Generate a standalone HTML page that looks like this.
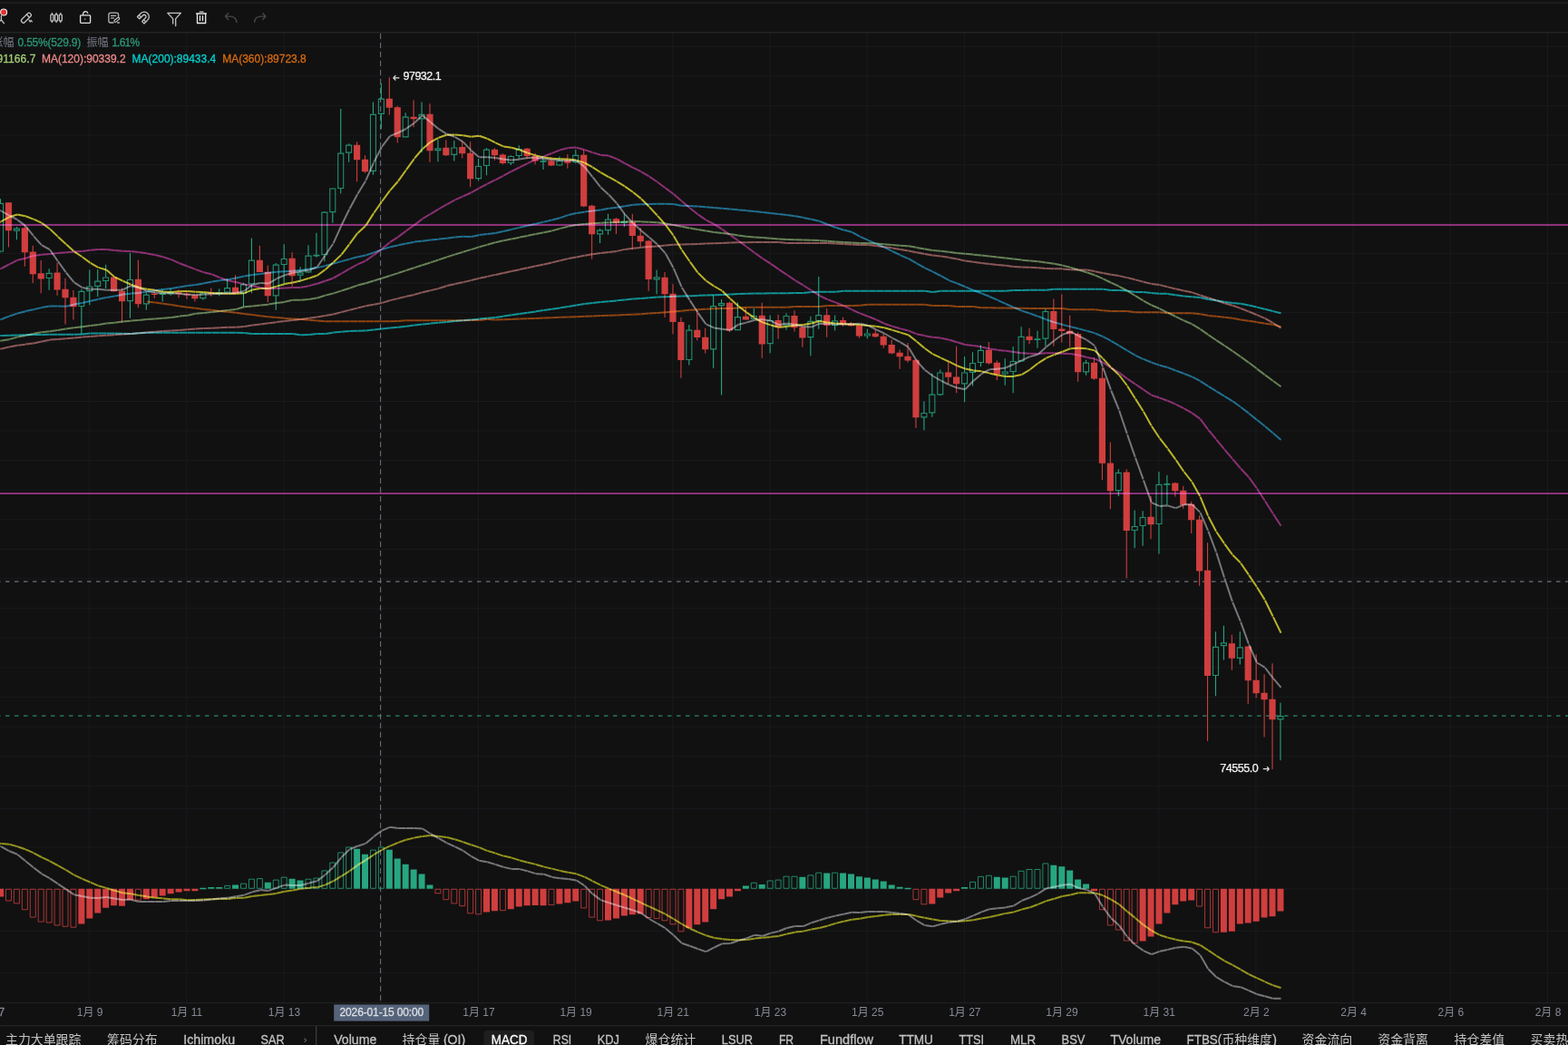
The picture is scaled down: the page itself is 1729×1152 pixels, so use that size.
<!DOCTYPE html>
<html lang="zh"><head><meta charset="utf-8"><title>chart</title>
<style>
html,body{margin:0;padding:0;background:#111111;overflow:hidden;}
body{width:1729px;height:1152px;font-family:"Liberation Sans", "Noto Sans CJK SC", sans-serif;}
svg{display:block;position:absolute;left:0;top:0;}
text{font-family:"Liberation Sans", "Noto Sans CJK SC", sans-serif;}
</style></head><body>
<svg width="1729" height="1152" viewBox="0 0 1729 1152" font-family='"Liberation Sans", "Noto Sans CJK SC", sans-serif'><g stroke="#1a1b1f" stroke-width="1"><line x1="98.67" y1="36" x2="98.67" y2="1105"/><line x1="205.86" y1="36" x2="205.86" y2="1105"/><line x1="313.05" y1="36" x2="313.05" y2="1105"/><line x1="420.24" y1="36" x2="420.24" y2="1105"/><line x1="527.43" y1="36" x2="527.43" y2="1105"/><line x1="634.62" y1="36" x2="634.62" y2="1105"/><line x1="741.81" y1="36" x2="741.81" y2="1105"/><line x1="849" y1="36" x2="849" y2="1105"/><line x1="956.19" y1="36" x2="956.19" y2="1105"/><line x1="1063.38" y1="36" x2="1063.38" y2="1105"/><line x1="1170.57" y1="36" x2="1170.57" y2="1105"/><line x1="1277.76" y1="36" x2="1277.76" y2="1105"/><line x1="1384.95" y1="36" x2="1384.95" y2="1105"/><line x1="1492.14" y1="36" x2="1492.14" y2="1105"/><line x1="1599.33" y1="36" x2="1599.33" y2="1105"/><line x1="1706.52" y1="36" x2="1706.52" y2="1105"/><line x1="0" y1="51.2" x2="1729" y2="51.2"/><line x1="0" y1="83.8" x2="1729" y2="83.8"/><line x1="0" y1="116.41" x2="1729" y2="116.41"/><line x1="0" y1="149.01" x2="1729" y2="149.01"/><line x1="0" y1="181.62" x2="1729" y2="181.62"/><line x1="0" y1="214.22" x2="1729" y2="214.22"/><line x1="0" y1="246.82" x2="1729" y2="246.82"/><line x1="0" y1="279.43" x2="1729" y2="279.43"/><line x1="0" y1="312.03" x2="1729" y2="312.03"/><line x1="0" y1="344.64" x2="1729" y2="344.64"/><line x1="0" y1="377.24" x2="1729" y2="377.24"/><line x1="0" y1="409.84" x2="1729" y2="409.84"/><line x1="0" y1="442.45" x2="1729" y2="442.45"/><line x1="0" y1="475.05" x2="1729" y2="475.05"/><line x1="0" y1="507.66" x2="1729" y2="507.66"/><line x1="0" y1="540.26" x2="1729" y2="540.26"/><line x1="0" y1="572.86" x2="1729" y2="572.86"/><line x1="0" y1="605.47" x2="1729" y2="605.47"/><line x1="0" y1="638.07" x2="1729" y2="638.07"/><line x1="0" y1="670.68" x2="1729" y2="670.68"/><line x1="0" y1="703.28" x2="1729" y2="703.28"/><line x1="0" y1="735.88" x2="1729" y2="735.88"/><line x1="0" y1="768.49" x2="1729" y2="768.49"/><line x1="0" y1="801.09" x2="1729" y2="801.09"/><line x1="0" y1="833.7" x2="1729" y2="833.7"/><line x1="0" y1="866.3" x2="1729" y2="866.3"/><line x1="0" y1="891.6" x2="1729" y2="891.6"/><line x1="0" y1="933.8" x2="1729" y2="933.8"/><line x1="0" y1="980" x2="1729" y2="980"/><line x1="0" y1="1026.2" x2="1729" y2="1026.2"/><line x1="0" y1="1072.3" x2="1729" y2="1072.3"/></g><line x1="0" y1="641.2" x2="1729" y2="641.2" stroke="#6e7380" stroke-width="1.2" stroke-dasharray="4.5 5.5" stroke-dashoffset="-6"/><line x1="0" y1="789.2" x2="1729" y2="789.2" stroke="#2a8a6c" stroke-width="1.2" stroke-dasharray="4.5 5.5" stroke-dashoffset="-6"/><line x1="419.6" y1="37" x2="419.6" y2="1105" stroke="#8c8fa0" stroke-width="1" stroke-dasharray="6 4" opacity="0.75"/><path d="M9.47 223.33V272.5M27.34 248.33V293.67M36.27 270.83V312M45.2 287V323.33M63.07 289.67V325.83M72 306.67V357.5M80.93 320V352.5M125.6 305.5V321.17M134.53 317.5V355.83M152.4 286.67V339.17M170.26 320.33V328.67M197.06 319.17V328.33M206 321.33V329.67M214.93 325V332.5M232.8 317.5V326.67M259.59 303.33V324.17M286.39 270.83V300M295.33 292.5V333.33M322.12 278.33V315.83M393.59 156.33V200.33M402.52 171.33V190.83M429.32 85.33V126.67M438.25 116.67V157.5M456.12 110.5V140.33M473.99 114.17V178.67M491.85 154.17V172M509.72 155.33V174.17M518.65 156.17V206.33M545.45 163.33V176.67M554.38 169.17V181.33M581.18 163.33V175.33M590.12 168.67V181.33M607.98 173.33V183M625.85 170V185.83M643.71 165V228.33M652.65 225.83V285.83M679.44 240V258M697.31 235.83V275.33M706.24 251.33V272.5M715.18 264.67V320.83M733.04 300V350M741.98 313.33V368.33M750.91 349.67V416.67M768.77 341.67V375.33M777.71 361.67V389.5M804.51 332.5V366.33M822.37 338.67V352.5M840.24 333.67V394.67M858.1 346.67V373.83M875.97 342.17V365.5M884.9 359.17V382.83M911.7 340V371.67M929.57 349.67V359.67M938.5 355V359.67M947.43 358.83V372.83M965.3 363V372M974.23 367.5V383.83M983.17 374.5V390.5M992.1 385.5V406.67M1001.03 378V399.5M1009.97 396.33V471.67M1045.7 397.5V423.33M1054.63 381.67V433.33M1090.36 377V401.67M1099.3 397.5V419.17M1135.03 361.67V379.17M1161.83 329.5V381.67M1170.76 324.5V377.5M1179.69 347.83V382.5M1188.63 366.33V420.83M1206.49 394.17V418.67M1215.42 405.33V529.17M1224.36 487.5V561.33M1242.22 517.17V637.5M1269.02 546.67V594.17M1295.82 531.67V547.5M1304.75 535.83V560.83M1313.69 552.83V588M1322.62 568.33V645.83M1331.55 598.33V817M1358.35 699.67V738.83M1376.22 712.5V776.33M1385.15 721.33V769.5M1394.09 743.33V812.5M1403.02 731.33V848" stroke="#d03e3e" stroke-width="1.1" fill="none"/><path d="M5.87 223.33H13.07V254.17H5.87ZM23.74 251.33H30.94V278.33H23.74ZM32.67 277.5H39.87V302.17H32.67ZM41.6 301.33H48.8V307.5H41.6ZM59.47 300.5H66.67V319.5H59.47ZM68.4 318.67H75.6V328.33H68.4ZM77.33 327.83H84.53V338.33H77.33ZM122 305.5H129.2V321.17H122ZM130.93 320.83H138.13V332.17H130.93ZM148.8 307.67H156V335.33H148.8ZM166.66 323.67H173.86V325H166.66ZM193.46 322.5H200.66V324.17H193.46ZM202.4 323.67H209.6V325.33H202.4ZM211.33 325.33H218.53V329.17H211.33ZM229.2 322.5H236.4V323.67H229.2ZM255.99 316.67H263.19V323.33H255.99ZM282.79 286.67H289.99V300H282.79ZM291.73 299.67H298.93V326.33H291.73ZM318.52 284.67H325.73V304.17H318.52ZM389.99 159.67H397.19V176.17H389.99ZM398.92 175.83H406.12V189.17H398.92ZM425.72 108.67H432.92V118.83H425.72ZM434.65 118.33H441.85V151.33H434.65ZM452.52 128.67H459.72V131.33H452.52ZM470.39 125.83H477.59V166.17H470.39ZM488.25 162.83H495.45V171.33H488.25ZM506.12 162H513.32V169.17H506.12ZM515.05 168.67H522.25V197.17H515.05ZM541.85 164.67H549.05V171.33H541.85ZM550.78 170.5H557.98V180H550.78ZM577.58 163.67H584.78V172H577.58ZM586.51 171.67H593.72V177.5H586.51ZM604.38 177.17H611.58V182.5H604.38ZM622.25 177H629.45V179.67H622.25ZM640.11 170.83H647.31V227.5H640.11ZM649.05 226.67H656.25V258.33H649.05ZM675.84 241.33H683.04V245.83H675.84ZM693.71 244.67H700.91V260H693.71ZM702.64 259.67H709.84V266.17H702.64ZM711.58 265.5H718.78V308H711.58ZM729.44 305.83H736.64V324.17H729.44ZM738.38 323.83H745.58V355H738.38ZM747.31 355H754.51V397H747.31ZM765.17 363.67H772.38V372H765.17ZM774.11 371.67H781.31V385.33H774.11ZM800.91 333.67H808.11V364.17H800.91ZM818.77 348.67H825.97V352.5H818.77ZM836.64 347.83H843.84V379.5H836.64ZM854.5 353H861.7V360.83H854.5ZM872.37 348H879.57V361.33H872.37ZM881.3 360.83H888.5V372.5H881.3ZM908.1 347.17H915.3V358.83H908.1ZM925.97 353H933.17V357.5H925.97ZM934.9 356.67H942.1V359.17H934.9ZM943.83 358.83H951.03V370.5H943.83ZM961.7 367.5H968.9V371.33H961.7ZM970.63 370.83H977.83V380.5H970.63ZM979.57 380H986.77V389.5H979.57ZM988.5 388.83H995.7V393.33H988.5ZM997.43 392.83H1004.63V397.5H997.43ZM1006.37 396.67H1013.57V460.33H1006.37ZM1042.1 410.5H1049.3V415.83H1042.1ZM1051.03 415.5H1058.23V423.33H1051.03ZM1086.76 385.83H1093.96V400.5H1086.76ZM1095.7 399.67H1102.9V412.83H1095.7ZM1131.43 370.83H1138.63V375H1131.43ZM1158.23 343H1165.43V363H1158.23ZM1167.16 362.5H1174.36V365H1167.16ZM1176.09 364.67H1183.29V368.33H1176.09ZM1185.03 368H1192.23V410.33H1185.03ZM1202.89 399.67H1210.09V417.5H1202.89ZM1211.83 416.67H1219.02V510.83H1211.83ZM1220.76 510.5H1227.96V541.33H1220.76ZM1238.62 520.5H1245.82V585H1238.62ZM1265.42 569.67H1272.62V578.33H1265.42ZM1292.22 532.5H1299.42V541.33H1292.22ZM1301.15 540.83H1308.35V556.67H1301.15ZM1310.09 555.83H1317.29V573.33H1310.09ZM1319.02 572.83H1326.22V629.5H1319.02ZM1327.95 628.67H1335.15V745H1327.95ZM1354.75 709.17H1361.95V725.83H1354.75ZM1372.62 712.5H1379.82V750.33H1372.62ZM1381.55 749.67H1388.75V764.17H1381.55ZM1390.49 763.67H1397.68V771.33H1390.49ZM1399.42 770.83H1406.62V793.33H1399.42Z" fill="#d03e3e"/><path d="M0.54 219.17V223.83M0.54 277.5V278.33M18.4 250V251.67M18.4 254.67V264.17M54.13 296.33V300.83M54.13 307V319.67M89.87 318.67V320.83M89.87 338V368.67M98.8 297.5V315.5M98.8 321.17V336.33M107.73 297V309.67M107.73 315.83V327M116.67 291.67V305.5M116.67 310V318M143.47 278.67V308M143.47 332.17V350.83M161.33 322.5V324.67M161.33 335.33V341.67M179.2 318.67V323.33M179.2 325V332.5M188.13 318V322.5M188.13 323.67V325.83M223.86 322.5V323M223.86 329.17V330.83M241.73 318.33V322.5M241.73 323.67V326.33M250.66 307.17V317.17M250.66 322.5V323.33M268.53 311.67V313.33M268.53 323.67V338.33M277.46 262.5V286.67M277.46 313.33V323.33M304.26 290V291.67M304.26 326.33V341.67M313.19 269.17V285M313.19 292V313.33M331.06 294.17V300.33M331.06 303.67V310.83M339.99 270.33V281.67M339.99 300.33V300.83M348.92 256.67V280.75M348.92 281.75V283.67M357.86 233V233.67M357.86 281.17V288.33M366.79 207V207.5M366.79 234.17V245.83M375.72 120V168.67M375.72 208V213.33M384.66 158.33V159.67M384.66 168.67V178.67M411.45 112.5V125.83M411.45 188.83V192.83M420.39 91.67V108.67M420.39 125.83V142M447.19 124.17V128.67M465.05 112.5V125.83M465.05 131.33V168M482.92 153.67V163.33M482.92 166.17V178.33M500.79 155V162.5M500.79 170.83V177.5M527.58 175V183M527.58 197.17V199.17M536.52 163V164.67M536.52 183V193.33M563.32 171.33V172M563.32 180V182M572.25 160.33V164.17M572.25 172V175.33M599.05 172V177.08M599.05 178.08V187M616.91 172.5V177M616.91 182.5V182.83M634.78 165V170.83M634.78 179.17V180.33M661.58 252V253.67M661.58 258.33V268M670.51 235.83V241.67M670.51 254.17V258.67M688.38 235V244.17M688.38 245.83V250M724.11 297.5V305.33M724.11 308.33V324.17M759.84 358V363.67M759.84 397V402.5M786.64 325V337.17M786.64 385.33V405.83M795.57 330V334.17M795.57 337.17V435.5M813.44 333.33V349.17M831.31 340V348M849.17 347.5V353M849.17 379.17V389.17M867.04 345.33V348M867.04 358.67V363.83M893.84 348.83V353.83M893.84 372.17V392.17M902.77 305V347.17M902.77 353.83V362.83M920.64 347.5V353.33M920.64 358.83V364.5M956.37 362.83V367.5M956.37 370.5V373.33M1018.9 442.5V455M1018.9 460.33V474.17M1027.83 411.67V434.67M1027.83 455.33V459.67M1036.77 407.5V410.5M1036.77 435.33V436.17M1063.56 393V410.5M1063.56 423.33V443.33M1072.5 388.33V400M1072.5 410.83V425.5M1081.43 380.5V385.83M1081.43 400V404.17M1108.23 395.33V409.5M1108.23 412.5V424.67M1117.16 382V398M1117.16 410V433.33M1126.1 360.33V370.83M1143.96 364.67V373.33M1143.96 375V383.83M1152.89 340.33V343M1152.89 373.67V381.67M1197.56 396.67V399.67M1197.56 410.33V413.83M1233.29 517.17V520.83M1233.29 541.17V547M1251.16 562.5V580M1251.16 585V604.17M1260.09 563.33V570M1260.09 580V601.67M1277.96 520V533.83M1277.96 578V610.5M1286.89 523.67V533M1286.89 534.17V556.67M1340.49 696.17V712.83M1340.49 745V767.17M1349.42 689.67V708.33M1349.42 712.17V727.5M1367.29 696.33V713.33M1367.29 725.83V732.5M1411.95 774.67V789.17M1411.95 793.33V838.33" stroke="#26a680" stroke-width="1.1" fill="none"/><path d="M-2.46 224.33H3.54V277H-2.46ZM15.4 252.17H21.4V254.17H15.4ZM51.13 301.33H57.13V306.5H51.13ZM86.87 321.33H92.87V337.5H86.87ZM95.8 316H101.8V320.67H95.8ZM104.73 310.17H110.73V315.33H104.73ZM113.67 306H119.67V309.5H113.67ZM140.47 308.5H146.47V331.67H140.47ZM158.33 325.17H164.33V334.83H158.33ZM176.2 323.83H182.2V324.5H176.2ZM185.13 323H191.13V323.6H185.13ZM220.86 323.5H226.86V328.67H220.86ZM238.73 323H244.73V323.6H238.73ZM247.66 317.67H253.66V322H247.66ZM265.53 313.83H271.53V323.17H265.53ZM274.46 287.17H280.46V312.83H274.46ZM301.26 292.17H307.26V325.83H301.26ZM310.19 285.5H316.19V291.5H310.19ZM328.06 300.83H334.06V303.17H328.06ZM336.99 282.17H342.99V299.83H336.99ZM345.92 281.25H351.92V281.85H345.92ZM354.86 234.17H360.86V280.67H354.86ZM363.79 208H369.79V233.67H363.79ZM372.72 169.17H378.72V207.5H372.72ZM381.66 160.17H387.66V168.17H381.66ZM408.45 126.33H414.45V188.33H408.45ZM417.39 109.17H423.39V125.33H417.39ZM444.19 129.17H450.19V150.83H444.19ZM462.05 126.33H468.05V130.83H462.05ZM479.92 163.83H485.92V165.67H479.92ZM497.79 163H503.79V170.33H497.79ZM524.58 183.5H530.58V196.67H524.58ZM533.52 165.17H539.52V182.5H533.52ZM560.32 172.5H566.32V179.5H560.32ZM569.25 164.67H575.25V171.5H569.25ZM596.05 177.58H602.05V178.18H596.05ZM613.91 177.5H619.91V182H613.91ZM631.78 171.33H637.78V178.67H631.78ZM658.58 254.17H664.58V257.83H658.58ZM667.51 242.17H673.51V253.67H667.51ZM685.38 244.67H691.38V245.33H685.38ZM721.11 305.83H727.11V307.83H721.11ZM756.84 364.17H762.84V396.5H756.84ZM783.64 337.67H789.64V384.83H783.64ZM792.57 334.67H798.57V336.67H792.57ZM810.44 349.67H816.44V363.67H810.44ZM828.31 348.5H834.31V351.5H828.31ZM846.17 353.5H852.17V378.67H846.17ZM864.04 348.5H870.04V358.17H864.04ZM890.84 354.33H896.84V371.67H890.84ZM899.77 347.67H905.77V353.33H899.77ZM917.64 353.83H923.64V358.33H917.64ZM953.37 368H959.37V370H953.37ZM1015.9 455.5H1021.9V459.83H1015.9ZM1024.83 435.17H1030.83V454.83H1024.83ZM1033.77 411H1039.77V434.83H1033.77ZM1060.56 411H1066.56V422.83H1060.56ZM1069.5 400.5H1075.5V410.33H1069.5ZM1078.43 386.33H1084.43V399.5H1078.43ZM1105.23 410H1111.23V412H1105.23ZM1114.16 398.5H1120.16V409.5H1114.16ZM1123.1 371.33H1129.1V397.83H1123.1ZM1140.96 373.83H1146.96V374.5H1140.96ZM1149.89 343.5H1155.89V373.17H1149.89ZM1194.56 400.17H1200.56V409.83H1194.56ZM1230.29 521.33H1236.29V540.67H1230.29ZM1248.16 580.5H1254.16V584.5H1248.16ZM1257.09 570.5H1263.09V579.5H1257.09ZM1274.96 534.33H1280.96V577.5H1274.96ZM1283.89 533.5H1289.89V534.1H1283.89ZM1337.49 713.33H1343.49V744.5H1337.49ZM1346.42 708.83H1352.42V711.67H1346.42ZM1364.29 713.83H1370.29V725.33H1364.29ZM1408.95 789.67H1414.95V792.83H1408.95Z" stroke="#26a680" stroke-width="1.1" fill="none" opacity="0.85"/><g stroke="#842171" stroke-width="2" style="mix-blend-mode:screen"><line x1="0" y1="248" x2="1729" y2="248"/><line x1="0" y1="544" x2="1729" y2="544"/></g><path d="M0.1 231.8L1.1 232.3M1.4 232.5L10 237.5M10.3 237.7L19 242.2M19.3 242.4L27.9 248.9M28.2 249.2L36.8 259.9M37.1 260.3L45.8 270.2M46.1 270.4L54.7 275M55 275.3L63.6 287.6M63.9 288L72.6 300.2M72.9 300.5L81.5 311.2M81.8 311.4L90.4 316.8M90.7 316.9L99.3 318.7M99.7 318.7L108.3 318.8M108.6 318.8L117.2 319.7M117.5 319.7L126.1 319.7M126.4 319.7L135.1 319.6M135.4 319.5L144 315.2M144.3 315.2L152.9 317.3M153.2 317.4L161.9 320.9M162.2 321L170.8 322.5M171.1 322.6L179.7 323.3M180 323.3L188.7 323.3M189 323.3L197.6 323.8M197.9 323.8L206.5 324.7M206.8 324.7L215.5 325M215.8 325L224.4 324.7M224.7 324.6L233.3 324.2M233.6 324.2L242.3 323.7M242.6 323.7L251.2 323.3M251.5 323.3L260.1 322.9M260.4 322.8L269.1 321M269.4 320.8L278 314.2M278.3 314L286.9 312.1M287.2 312.1L295.9 312.5M296.2 312.5L304.8 307.3M305.1 307.2L313.7 303.5M314 303.4L322.7 300.7M323 300.7L331.6 299.1M331.9 299.1L340.5 297.8M340.8 297.7L349.5 294.4M349.8 294.2L358.4 281.7M358.7 281.2L367.3 268.7M367.6 268.1L376.3 248.9M376.6 248.2L385.2 230.8M385.5 230.2L394.1 214.3M394.4 213.8L403.1 199.4M403.4 198.8L412 179.4M412.3 178.8L420.9 162.1M421.2 161.7L429.9 150.2M430.2 149.9L438.8 146.4M439.1 146.3L447.7 142M448 141.8L456.7 135.8M457 135.5L465.6 127.2M465.9 127.2L474.5 134.4M474.8 134.7L483.5 142M483.8 142.2L492.4 147.7M492.7 147.8L501.3 150.8M501.6 151L510.3 156.2M510.6 156.4L519.2 165.4M519.5 165.7L528.1 173.2M528.4 173.3L537.1 173.3M537.4 173.3L546 174M546.3 174L554.9 175.5M555.2 175.5L563.9 176.4M564.2 176.4L572.8 175.7M573.1 175.6L581.7 174M582 174L590.7 173.8M591 173.8L599.6 175.2M599.9 175.2L608.5 175.9M608.8 175.9L617.5 176.7M617.8 176.8L626.4 177.1M626.7 177.1L635.3 177.1M635.6 177.2L644.3 183.6M644.6 183.9L653.2 194.9M653.5 195.2L662.1 206.1M662.4 206.5L671.1 214.4M671.4 214.7L680 224M680.3 224.3L688.9 236M689.2 236.4L697.9 246M698.2 246.3L706.8 254M707.1 254.3L715.7 261.5M716 261.7L724.7 269.3M725 269.6L733.6 279.1M733.9 279.6L742.5 295.2M742.8 295.8L751.5 316.2M751.8 316.8L760.4 330.6M760.7 331.1L769.3 344.3M769.6 344.8L778.3 357.1M778.6 357.4L787.2 361.3M787.5 361.4L796.1 362.8M796.4 362.8L805.1 364M805.4 363.9L814 357.9M814.3 357.8L822.9 355.6M823.2 355.5L831.9 353M832.2 352.9L840.8 352.1M841.1 352.2L849.7 353.6M850 353.7L858.7 358.1M859 358.2L867.6 356.5M867.9 356.5L876.5 357.7M876.8 357.7L885.5 360M885.8 360.1L894.4 360.6M894.7 360.6L903.3 356.8M903.6 356.7L912.3 357.2M912.6 357.2L921.2 357.5M921.5 357.5L930.1 357.5M930.4 357.5L939.1 357.2M939.4 357.2L948 356.8M948.3 356.8L956.9 358.8M957.2 358.9L965.9 363.2M966.2 363.3L974.8 367.4M975.1 367.5L983.7 372.5M984 372.7L992.6 377.2M992.9 377.3L1001.6 382.7M1001.9 383L1010.5 397.3M1010.8 397.7L1019.4 407.5M1019.7 407.8L1028.4 414.3M1028.7 414.5L1037.3 419.5M1037.6 419.7L1046.2 424M1046.5 424.1L1055.2 427.5M1055.5 427.6L1064.1 429.2M1064.4 429.1L1073 420.3M1073.3 420L1082 412.4M1082.3 412.2L1090.9 407.3M1091.2 407.2L1099.8 406.7M1100.1 406.7L1108.8 405.5M1109.1 405.4L1117.7 401.5M1118 401.3L1126.6 397.3M1126.9 397.1L1135.6 393.2M1135.9 393.1L1144.5 390.7M1144.8 390.6L1153.4 382.8M1153.7 382.5L1162.4 375.4M1162.7 375.2L1171.3 369M1171.6 368.9L1180.2 365.7M1180.5 365.7L1189.2 370.2M1189.5 370.4L1198.1 374.6M1198.4 374.8L1207 381M1207.3 381.5L1216 404.5M1216.3 405.3L1224.9 429.7M1225.2 430.5L1233.8 451.7M1234.1 452.5L1242.8 478.3M1243.1 479.2L1251.7 503.9M1252 504.7L1260.6 528.4M1260.9 529.3L1269.6 553.7M1269.9 554.2L1278.5 557.9M1278.8 557.9L1287.4 557.3M1287.7 557.4L1296.4 560.1M1296.7 560.1L1305.3 556.3M1305.6 556.2L1314.2 555.9M1314.5 556.1L1323.2 564.6M1323.5 565.1L1332.1 584.9M1332.4 585.7L1341 608.5M1341.3 609.3L1350 636.6M1350.3 637.5L1358.9 663.1M1359.2 663.9L1367.8 684.9M1368.1 685.6L1376.8 709.6M1377.1 710.4L1385.7 730M1386 730.5L1394.6 735.7M1394.9 736L1403.6 747.4M1403.9 747.7L1412.5 757.8" stroke="#6c6c71" stroke-width="2" fill="none" style="mix-blend-mode:screen"/><path d="M0.1 244.9L1.1 244.3M1.4 244.2L10 239.4M10.3 239.3L19 236.5M19.3 236.5L27.9 238.2M28.2 238.3L36.8 241.6M37.1 241.7L45.8 245.7M46.1 245.9L54.7 252.2M55 252.4L63.6 260.6M63.9 260.9L72.6 269M72.9 269.3L81.5 277.1M81.8 277.3L90.4 283M90.7 283.2L99.3 289.6M99.7 289.8L108.3 294.8M108.6 294.9L117.2 297.5M117.5 297.6L126.1 305.2M126.4 305.4L135.1 309.5M135.4 309.6L144 313.5M144.3 313.6L152.9 316.8M153.2 316.9L161.9 318.7M162.2 318.8L170.8 319.8M171.1 319.9L179.7 321.7M180 321.7L188.7 321.9M189 321.9L197.6 321.3M197.9 321.3L206.5 320.9M206.8 320.9L215.5 321.7M215.8 321.7L224.4 322.1M224.7 322.1L233.3 323M233.6 323L242.3 323.3M242.6 323.3L251.2 323.7M251.5 323.7L260.1 323.7M260.4 323.7L269.1 323.3M269.4 323.2L278 319.6M278.3 319.5L286.9 318.1M287.2 318L295.9 318.1M296.2 318.1L304.8 315.7M305.1 315.6L313.7 313.2M314 313.1L322.7 311.6M323 311.5L331.6 309.5M331.9 309.4L340.5 306.8M340.8 306.7L349.5 303.8M349.8 303.7L358.4 297.4M358.7 297.2L367.3 289.5M367.6 289.2L376.3 280.9M376.6 280.6L385.2 269.3M385.5 268.9L394.1 257.2M394.4 256.9L403.1 249M403.4 248.6L412 235.1M412.3 234.7L420.9 222.4M421.2 222L429.9 210.2M430.2 209.8L438.8 200M439.1 199.6L447.7 187.5M448 187.1L456.7 175.1M457 174.7L465.6 164.5M465.9 164.2L474.5 156.8M474.8 156.6L483.5 151.9M483.8 151.7L492.4 148.7M492.7 148.7L501.3 148.4M501.6 148.4L510.3 149.3M510.6 149.3L519.2 150.8M519.5 150.8L528.1 149.7M528.4 149.8L537.1 152.7M537.4 152.8L546 157.2M546.3 157.3L554.9 161.3M555.2 161.4L563.9 162.7M564.2 162.7L572.8 165.2M573.1 165.3L581.7 168.5M582 168.6L590.7 171.4M591 171.5L599.6 173.4M599.9 173.4L608.5 174.7M608.8 174.7L617.5 175.2M617.8 175.2L626.4 175.6M626.7 175.6L635.3 176.6M635.6 176.6L644.3 179.4M644.6 179.5L653.2 184.2M653.5 184.3L662.1 190M662.4 190.2L671.1 195.1M671.4 195.2L680 199.9M680.3 200.1L688.9 205.4M689.2 205.6L697.9 211.7M698.2 212L706.8 218.9M707.1 219.2L715.7 227.8M716 228.1L724.7 237.5M725 237.9L733.6 247.5M733.9 247.9L742.5 259.5M742.8 259.9L751.5 275.1M751.8 275.5L760.4 288M760.7 288.5L769.3 300.3M769.6 300.6L778.3 309.3M778.6 309.5L787.2 315.3M787.5 315.5L796.1 320.5M796.4 320.7L805.1 329.2M805.4 329.5L814 337.2M814.3 337.5L822.9 344.1M823.2 344.4L831.9 350.4M832.2 350.6L840.8 355.3M841.1 355.4L849.7 358.4M850 358.5L858.7 360.7M859 360.7L867.6 359.9M867.9 359.8L876.5 358.7M876.8 358.6L885.5 357.9M885.8 357.9L894.4 356.6M894.7 356.5L903.3 354M903.6 354L912.3 355.5M912.6 355.6L921.2 356.4M921.5 356.4L930.1 357.2M930.4 357.2L939.1 357.5M939.4 357.5L948 358M948.3 358.1L956.9 359M957.2 359L965.9 359.7M966.2 359.7L974.8 361.3M975.1 361.3L983.7 363.8M984 363.9L992.6 366.5M992.9 366.6L1001.6 369.2M1001.9 369.4L1010.5 376.2M1010.8 376.5L1019.4 383.8M1019.7 384L1028.4 390.2M1028.7 390.4L1037.3 394.4M1037.6 394.6L1046.2 398.6M1046.5 398.7L1055.2 403.2M1055.5 403.3L1064.1 406.4M1064.4 406.5L1073 408.3M1073.3 408.4L1082 409.3M1082.3 409.4L1090.9 411.4M1091.2 411.5L1099.8 413.4M1100.1 413.5L1108.8 415M1109.1 415L1117.7 414.9M1118 414.8L1126.6 413M1126.9 412.8L1135.6 407.5M1135.9 407.3L1144.5 400.5M1144.8 400.3L1153.4 394.8M1153.7 394.6L1162.4 391.1M1162.7 391L1171.3 387.8M1171.6 387.7L1180.2 384.2M1180.5 384.2L1189.2 383.8M1189.5 383.8L1198.1 384.3M1198.4 384.4L1207 386.4M1207.3 386.5L1216 395.1M1216.3 395.4L1224.9 404.9M1225.2 405.2L1233.8 413.2M1234.1 413.5L1242.8 425M1243.1 425.5L1251.7 439.2M1252 439.6L1260.6 453.2M1260.9 453.7L1269.6 469.2M1269.9 469.7L1278.5 482.7M1278.8 483.1L1287.4 494.2M1287.7 494.6L1296.4 506.7M1296.7 507.1L1305.3 519.8M1305.6 520.2L1314.2 531M1314.5 531.5L1323.2 547.1M1323.5 547.7L1332.1 568.6M1332.4 569.3L1341 585.7M1341.3 586.3L1350 599.1M1350.3 599.6L1358.9 611.3M1359.2 611.7L1367.8 620.3M1368.1 620.7L1376.8 633.4M1377.1 633.9L1385.7 646.8M1386 647.3L1394.6 661.1M1394.9 661.7L1403.6 679.5M1403.9 680.1L1412.5 697.7" stroke="#b4ad1b" stroke-width="2" fill="none" style="mix-blend-mode:screen"/><path d="M0.1 296.6L1.1 296.1M1.4 296L10 291.5M10.3 291.4L19 286.9M19.3 286.8L27.9 284.8M28.2 284.8L36.8 281.9M37.1 281.9L45.8 280.8M46.1 280.7L54.7 280M55 279.9L63.6 279.1M63.9 279.1L72.6 278.2M72.9 278.2L81.5 277.5M81.8 277.4L90.4 276.9M90.7 276.9L99.3 275.7M99.7 275.7L108.3 275M108.6 275L117.2 275.1M117.5 275.1L126.1 275.9M126.4 275.9L135.1 276.7M135.4 276.7L144 277.1M144.3 277.1L152.9 278.1M153.2 278.1L161.9 279.3M162.2 279.4L170.8 280.9M171.1 281L179.7 283.2M180 283.3L188.7 286.1M189 286.2L197.6 290.2M197.9 290.3L206.5 293.5M206.8 293.6L215.5 296.9M215.8 297.1L224.4 300.1M224.7 300.2L233.3 302.3M233.6 302.4L242.3 306M242.6 306.1L251.2 309.3M251.5 309.3L260.1 310.9M260.4 311L269.1 313.4M269.4 313.5L278 315.1M278.3 315.2L286.9 317.1M287.2 317.1L295.9 318.3M296.2 318.3L304.8 318M305.1 318L313.7 317.5M314 317.5L322.7 317M323 317L331.6 316.9M331.9 316.8L340.5 315.2M340.8 315.1L349.5 312.8M349.8 312.7L358.4 309.8M358.7 309.7L367.3 306.7M367.6 306.5L376.3 301.7M376.6 301.5L385.2 296.4M385.5 296.3L394.1 291.5M394.4 291.4L403.1 287.6M403.4 287.4L412 281.3M412.3 281.1L420.9 274.5M421.2 274.2L429.9 267.2M430.2 266.9L438.8 261.3M439.1 261.1L447.7 254.6M448 254.4L456.7 248.3M457 248.1L465.6 241.4M465.9 241.2L474.5 236M474.8 235.8L483.5 230.7M483.8 230.5L492.4 225.4M492.7 225.3L501.3 220.6M501.6 220.4L510.3 216.6M510.6 216.4L519.2 212.5M519.5 212.3L528.1 207.6M528.4 207.4L537.1 202.8M537.4 202.7L546 198.4M546.3 198.3L554.9 193.8M555.2 193.7L563.9 188.9M564.2 188.8L572.8 184.5M573.1 184.3L581.7 180.1M582 179.9L590.7 176M591 175.9L599.6 172.3M599.9 172.2L608.5 169M608.8 168.9L617.5 165.3M617.8 165.2L626.4 163.1M626.7 163L635.3 162.6M635.6 162.7L644.3 165M644.6 165.1L653.2 168M653.5 168.1L662.1 170.8M662.4 170.9L671.1 171.6M671.4 171.7L680 175.1M680.3 175.2L688.9 180.1M689.2 180.2L697.9 184.8M698.2 184.9L706.8 189.2M707.1 189.4L715.7 194.4M716 194.6L724.7 200.5M725 200.7L733.6 207.2M733.9 207.4L742.5 213.7M742.8 214L751.5 221.5M751.8 221.7L760.4 228.9M760.7 229.2L769.3 236.2M769.6 236.4L778.3 242.4M778.6 242.6L787.2 246.9M787.5 247.1L796.1 252.7M796.4 252.9L805.1 259M805.4 259.2L814 265.3M814.3 265.5L822.9 271.8M823.2 272L831.9 278.5M832.2 278.7L840.8 284.9M841.1 285.1L849.7 290.7M850 290.9L858.7 296.9M859 297.1L867.6 302.8M867.9 303L876.5 308.8M876.8 309L885.5 314.3M885.8 314.5L894.4 320M894.7 320.2L903.3 325.7M903.6 325.9L912.3 330M912.6 330.1L921.2 333.4M921.5 333.5L930.1 337M930.4 337.1L939.1 341.2M939.4 341.3L948 345.3M948.3 345.4L956.9 348.7M957.2 348.8L965.9 352.2M966.2 352.4L974.8 356.5M975.1 356.7L983.7 359.6M984 359.7L992.6 362.3M992.9 362.4L1001.6 364.5M1001.9 364.6L1010.5 368.1M1010.8 368.2L1019.4 370.1M1019.7 370.2L1028.4 371.7M1028.7 371.8L1037.3 372.6M1037.6 372.7L1046.2 374.4M1046.5 374.5L1055.2 377.2M1055.5 377.3L1064.1 380M1064.4 380.1L1073 380.9M1073.3 380.9L1082 382.3M1082.3 382.4L1090.9 384.3M1091.2 384.4L1099.8 385.8M1100.1 385.9L1108.8 386.8M1109.1 386.8L1117.7 388.1M1118 388.1L1126.6 389.2M1126.9 389.2L1135.6 389.7M1135.9 389.7L1144.5 389.9M1144.8 389.9L1153.4 389.2M1153.7 389.2L1162.4 389.2M1162.7 389.2L1171.3 389.7M1171.6 389.7L1180.2 390.1M1180.5 390.1L1189.2 391.4M1189.5 391.5L1198.1 393.8M1198.4 393.9L1207 395.6M1207.3 395.7L1216 399.5M1216.3 399.7L1224.9 405.3M1225.2 405.5L1233.8 410.5M1234.1 410.7L1242.8 417.4M1243.1 417.6L1251.7 423.3M1252 423.5L1260.6 429.4M1260.9 429.6L1269.6 435.5M1269.9 435.7L1278.5 438.5M1278.8 438.6L1287.4 441.8M1287.7 441.9L1296.4 445.7M1296.7 445.8L1305.3 450.1M1305.6 450.3L1314.2 455.2M1314.5 455.4L1323.2 461.6M1323.5 461.9L1332.1 473.4M1332.4 473.8L1341 484.2M1341.3 484.6L1350 495.2M1350.3 495.6L1358.9 505.7M1359.2 506.1L1367.8 516.2M1368.1 516.5L1376.8 525.8M1377.1 526.2L1385.7 538M1386 538.5L1394.6 551.7M1394.9 552.2L1403.6 566M1403.9 566.5L1412.5 579.8" stroke="#842169" stroke-width="2" fill="none" style="mix-blend-mode:screen"/><path d="M0.1 352.4L1.1 352.1M1.4 352L10 348.6M10.3 348.5L19 345.6M19.3 345.5L27.9 343.2M28.2 343.1L36.8 341.2M37.1 341.1L45.8 339.1M46.1 339L54.7 337.5M55 337.5L63.6 337.5M63.9 337.5L72.6 337.8M72.9 337.7L81.5 335.7M81.8 335.6L90.4 334M90.7 334L99.3 331.9M99.7 331.8L108.3 329.9M108.6 329.8L117.2 327.9M117.5 327.9L126.1 326.5M126.4 326.5L135.1 324.7M135.4 324.6L144 323.7M144.3 323.6L152.9 322.9M153.2 322.9L161.9 321.6M162.2 321.6L170.8 320.2M171.1 320.2L179.7 319.1M180 319.1L188.7 317.9M189 317.9L197.6 316.6M197.9 316.5L206.5 315M206.8 314.9L215.5 314.1M215.8 314L224.4 312.4M224.7 312.3L233.3 310.7M233.6 310.6L242.3 309.2M242.6 309.1L251.2 308.2M251.5 308.2L260.1 306.6M260.4 306.5L269.1 304.6M269.4 304.5L278 303M278.3 302.9L286.9 301.9M287.2 301.9L295.9 300.7M296.2 300.7L304.8 299.7M305.1 299.7L313.7 299.2M314 299.2L322.7 298.7M323 298.6L331.6 297.9M331.9 297.9L340.5 296.6M340.8 296.6L349.5 295.2M349.8 295.1L358.4 293.1M358.7 293L367.3 290.6M367.6 290.6L376.3 288.1M376.6 288.1L385.2 285.7M385.5 285.6L394.1 283.2M394.4 283.2L403.1 281.5M403.4 281.4L412 278.5M412.3 278.4L420.9 275.1M421.2 275L429.9 272.4M430.2 272.3L438.8 270.4M439.1 270.3L447.7 268.6M448 268.5L456.7 266.7M457 266.6L465.6 265.7M465.9 265.7L474.5 264.6M474.8 264.6L483.5 263.7M483.8 263.6L492.4 262.7M492.7 262.7L501.3 261.6M501.6 261.6L510.3 260.8M510.6 260.8L519.2 261.1M519.5 261L528.1 259.2M528.4 259.1L537.1 258M537.4 257.9L546 256.9M546.3 256.9L554.9 255.1M555.2 255L563.9 253M564.2 252.9L572.8 250.9M573.1 250.8L581.7 248.8M582 248.7L590.7 246.7M591 246.7L599.6 244.6M599.9 244.6L608.5 242.5M608.8 242.5L617.5 240.2M617.8 240.1L626.4 237.1M626.7 237L635.3 235M635.6 234.9L644.3 233.7M644.6 233.6L653.2 232.6M653.5 232.6L662.1 231.6M662.4 231.6L671.1 229.8M671.4 229.8L680 228.7M680.3 228.7L688.9 227.2M689.2 227.2L697.9 225.8M698.2 225.7L706.8 225.3M707.1 225.3L715.7 225M716 225L724.7 224.8M725 224.8L733.6 224.7M733.9 224.7L742.5 224.9M742.8 224.9L751.5 226.7M751.8 226.7L760.4 227.1M760.7 227.1L769.3 227.6M769.6 227.6L778.3 228.2M778.6 228.2L787.2 228.9M787.5 228.9L796.1 229.8M796.4 229.8L805.1 230.6M805.4 230.6L814 231.3M814.3 231.4L822.9 232.1M823.2 232.2L831.9 233M832.2 233L840.8 234M841.1 234L849.7 235.1M850 235.1L858.7 236M859 236L867.6 236.9M867.9 237L876.5 238.2M876.8 238.2L885.5 239.8M885.8 239.9L894.4 241.7M894.7 241.8L903.3 243.8M903.6 243.9L912.3 247.3M912.6 247.4L921.2 250.7M921.5 250.8L930.1 253.5M930.4 253.5L939.1 255.8M939.4 255.9L948 260.6M948.3 260.8L956.9 264.7M957.2 264.8L965.9 268.6M966.2 268.7L974.8 272.5M975.1 272.6L983.7 276.8M984 277L992.6 281.1M992.9 281.3L1001.6 285.1M1001.9 285.2L1010.5 290.1M1010.8 290.3L1019.4 295.2M1019.7 295.4L1028.4 299.4M1028.7 299.6L1037.3 304M1037.6 304.1L1046.2 308.9M1046.5 309.1L1055.2 312.4M1055.5 312.5L1064.1 316M1064.4 316.1L1073 319.9M1073.3 320L1082 323.2M1082.3 323.4L1090.9 326.8M1091.2 327L1099.8 330.7M1100.1 330.9L1108.8 334.9M1109.1 335L1117.7 338.8M1118 338.9L1126.6 342.5M1126.9 342.6L1135.6 345.5M1135.9 345.6L1144.5 348.7M1144.8 348.8L1153.4 352.1M1153.7 352.3L1162.4 355.4M1162.7 355.4L1171.3 357.8M1171.6 357.9L1180.2 360.1M1180.5 360.1L1189.2 362.3M1189.5 362.4L1198.1 364.6M1198.4 364.7L1207 367.1M1207.3 367.3L1216 371M1216.3 371.1L1224.9 375.6M1225.2 375.8L1233.8 380.9M1234.1 381.1L1242.8 386.4M1243.1 386.5L1251.7 391.7M1252 391.8L1260.6 395.8M1260.9 395.9L1269.6 399.5M1269.9 399.6L1278.5 402.6M1278.8 402.7L1287.4 405M1287.7 405.1L1296.4 408.5M1296.7 408.6L1305.3 411.8M1305.6 411.9L1314.2 415.2M1314.5 415.4L1323.2 419.9M1323.5 420.1L1332.1 425.6M1332.4 425.8L1341 431.2M1341.3 431.4L1350 436.7M1350.3 436.9L1358.9 442.1M1359.2 442.3L1367.8 448.5M1368.1 448.7L1376.8 455.4M1377.1 455.7L1385.7 462.6M1386 462.8L1394.6 469.8M1394.9 470.1L1403.6 477.3M1403.9 477.5L1412.5 484.9" stroke="#106688" stroke-width="2" fill="none" style="mix-blend-mode:screen"/><path d="M0.1 375.8L1.1 375.7M1.4 375.6L10 374.2M10.3 374.1L19 371.6M19.3 371.5L27.9 369.9M28.2 369.8L36.8 367.9M37.1 367.8L45.8 366.2M46.1 366.2L54.7 365.2M55 365.2L63.6 364.1M63.9 364L72.6 362.4M72.9 362.4L81.5 361.2M81.8 361.2L90.4 360.2M90.7 360.2L99.3 359.1M99.7 359.1L108.3 357.9M108.6 357.9L117.2 356.6M117.5 356.6L126.1 355.7M126.4 355.7L135.1 354.6M135.4 354.6L144 353.7M144.3 353.6L152.9 352.9M153.2 352.9L161.9 352M162.2 352L170.8 351.6M171.1 351.6L179.7 350.8M180 350.7L188.7 349.9M189 349.9L197.6 348.7M197.9 348.6L206.5 347.8M206.8 347.8L215.5 345.8M215.8 345.7L224.4 344.9M224.7 344.9L233.3 344.1M233.6 344.1L242.3 342.9M242.6 342.9L251.2 342M251.5 341.9L260.1 341.1M260.4 341L269.1 338.3M269.4 338.2L278 337.5M278.3 337.4L286.9 336.6M287.2 336.6L295.9 335.7M296.2 335.6L304.8 334.1M305.1 334.1L313.7 332.9M314 332.8L322.7 330.8M323 330.8L331.6 330.7M331.9 330.7L340.5 329.9M340.8 329.9L349.5 328.6M349.8 328.5L358.4 325.7M358.7 325.6L367.3 323.5M367.6 323.4L376.3 320.6M376.6 320.5L385.2 317.8M385.5 317.7L394.1 314.6M394.4 314.5L403.1 312.3M403.4 312.2L412 309.5M412.3 309.5L420.9 306.8M421.2 306.7L429.9 304M430.2 303.9L438.8 301.1M439.1 301L447.7 298.1M448 298L456.7 295.2M457 295.1L465.6 292.3M465.9 292.2L474.5 289.5M474.8 289.4L483.5 286.5M483.8 286.4L492.4 283.5M492.7 283.4L501.3 280.6M501.6 280.5L510.3 277.9M510.6 277.8L519.2 275.1M519.5 275.1L528.1 272.4M528.4 272.3L537.1 269.9M537.4 269.8L546 267.3M546.3 267.2L554.9 265.3M555.2 265.2L563.9 263.5M564.2 263.4L572.8 261.7M573.1 261.6L581.7 259.9M582 259.8L590.7 258.1M591 258L599.6 256.3M599.9 256.2L608.5 254.5M608.8 254.4L617.5 252M617.8 251.9L626.4 249.7M626.7 249.6L635.3 248M635.6 247.9L644.3 247.1M644.6 247L653.2 246.2M653.5 246.2L662.1 245.7M662.4 245.7L671.1 245.2M671.4 245.2L680 244.9M680.3 244.9L688.9 244.6M689.2 244.6L697.9 244.3M698.2 244.3L706.8 244.3M707.1 244.4L715.7 244.7M716 244.7L724.7 245.2M725 245.2L733.6 246.5M733.9 246.6L742.5 248M742.8 248.1L751.5 249.8M751.8 249.8L760.4 251.4M760.7 251.5L769.3 253M769.6 253.1L778.3 254.5M778.6 254.5L787.2 255.9M787.5 255.9L796.1 257M796.4 257.1L805.1 258.1M805.4 258.1L814 259.4M814.3 259.4L822.9 260.7M823.2 260.8L831.9 261.4M832.2 261.4L840.8 262.1M841.1 262.1L849.7 262.8M850 262.8L858.7 263.4M859 263.4L867.6 263.9M867.9 263.9L876.5 264.2M876.8 264.2L885.5 264.4M885.8 264.4L894.4 264.7M894.7 264.8L903.3 265.1M903.6 265.2L912.3 265.7M912.6 265.7L921.2 266.4M921.5 266.4L930.1 267M930.4 267L939.1 267.5M939.4 267.6L948 268M948.3 268L956.9 268M957.2 268L965.9 268.5M966.2 268.6L974.8 269.3M975.1 269.3L983.7 270.1M984 270.1L992.6 270.7M992.9 270.7L1001.6 271.3M1001.9 271.3L1010.5 272.8M1010.8 272.9L1019.4 274.4M1019.7 274.5L1028.4 275.9M1028.7 276L1037.3 276.8M1037.6 276.8L1046.2 277.8M1046.5 277.8L1055.2 278.9M1055.5 278.9L1064.1 279.7M1064.4 279.8L1073 280.6M1073.3 280.7L1082 281.5M1082.3 281.6L1090.9 282.5M1091.2 282.6L1099.8 283.5M1100.1 283.5L1108.8 284.5M1109.1 284.5L1117.7 285.5M1118 285.6L1126.6 286.6M1126.9 286.7L1135.6 287.5M1135.9 287.5L1144.5 288.2M1144.8 288.2L1153.4 289.4M1153.7 289.5L1162.4 290.7M1162.7 290.7L1171.3 292.5M1171.6 292.6L1180.2 294.8M1180.5 294.9L1189.2 297.5M1189.5 297.6L1198.1 300.2M1198.4 300.3L1207 303.2M1207.3 303.3L1216 307.2M1216.3 307.3L1224.9 311.5M1225.2 311.6L1233.8 315.6M1234.1 315.8L1242.8 320.5M1243.1 320.7L1251.7 326M1252 326.2L1260.6 331.4M1260.9 331.6L1269.6 336.3M1269.9 336.5L1278.5 340.2M1278.8 340.3L1287.4 344.6M1287.7 344.7L1296.4 349M1296.7 349.2L1305.3 353.3M1305.6 353.5L1314.2 357.2M1314.5 357.3L1323.2 362.7M1323.5 362.9L1332.1 368.9M1332.4 369.1L1341 375M1341.3 375.2L1350 380.8M1350.3 381L1358.9 386.8M1359.2 387L1367.8 393.1M1368.1 393.3L1376.8 399.6M1377.1 399.8L1385.7 406.3M1386 406.6L1394.6 413.1M1394.9 413.4L1403.6 419.7M1403.9 420L1412.5 426.2" stroke="#5c794a" stroke-width="2" fill="none" style="mix-blend-mode:screen"/><path d="M0.1 384.7L1.1 384.5M1.4 384.4L10 382.6M10.3 382.5L19 380.7M19.3 380.7L27.9 379.7M28.2 379.6L36.8 378.5M37.1 378.5L45.8 376.6M46.1 376.5L54.7 374.7M55 374.6L63.6 374M63.9 373.9L72.6 373.2M72.9 373.2L81.5 372.4M81.8 372.4L90.4 371.7M90.7 371.6L99.3 371M99.7 370.9L108.3 370.3M108.6 370.2L117.2 369.7M117.5 369.7L126.1 369.2M126.4 369.1L135.1 368.6M135.4 368.5L144 368M144.3 367.9L152.9 367.3M153.2 367.3L161.9 366.6M162.2 366.6L170.8 365.8M171.1 365.8L179.7 365M180 365L188.7 364.6M189 364.6L197.6 364.1M197.9 364.1L206.5 363.3M206.8 363.3L215.5 362.5M215.8 362.5L224.4 362.1M224.7 362.1L233.3 361.7M233.6 361.7L242.3 361.2M242.6 361.2L251.2 360.8M251.5 360.8L260.1 360.8M260.4 360.8L269.1 359.9M269.4 359.9L278 358.6M278.3 358.6L286.9 357.4M287.2 357.4L295.9 356.2M296.2 356.2L304.8 355.2M305.1 355.1L313.7 354.1M314 354.1L322.7 353M323 353L331.6 351.9M331.9 351.9L340.5 350.8M340.8 350.7L349.5 349.6M349.8 349.6L358.4 347.9M358.7 347.9L367.3 346.5M367.6 346.5L376.3 344.1M376.6 344L385.2 341.9M385.5 341.8L394.1 339.6M394.4 339.5L403.1 337.4M403.4 337.3L412 335.7M412.3 335.7L420.9 334M421.2 333.9L429.9 331.2M430.2 331.1L438.8 329.1M439.1 329L447.7 326.9M448 326.8L456.7 324.9M457 324.8L465.6 322.4M465.9 322.3L474.5 320.2M474.8 320.1L483.5 318.1M483.8 318L492.4 315.2M492.7 315.1L501.3 313.2M501.6 313.1L510.3 311.2M510.6 311.1L519.2 309.1M519.5 309L528.1 306.9M528.4 306.8L537.1 304.9M537.4 304.9L546 302.9M546.3 302.9L554.9 301M555.2 300.9L563.9 299.1M564.2 299L572.8 297.2M573.1 297.1L581.7 295.3M582 295.2L590.7 293.3M591 293.3L599.6 291.4M599.9 291.4L608.5 289.5M608.8 289.4L617.5 287.3M617.8 287.2L626.4 285.1M626.7 285L635.3 283.4M635.6 283.4L644.3 281.8M644.6 281.8L653.2 280.3M653.5 280.3L662.1 279M662.4 278.9L671.1 278M671.4 277.9L680 277M680.3 276.9L688.9 274.9M689.2 274.9L697.9 273.8M698.2 273.8L706.8 272.9M707.1 272.8L715.7 272.1M716 272.1L724.7 271.4M725 271.4L733.6 270.6M733.9 270.6L742.5 269.8M742.8 269.8L751.5 269.5M751.8 269.4L760.4 269.2M760.7 269.2L769.3 268.9M769.6 268.9L778.3 268.6M778.6 268.6L787.2 268.3M787.5 268.2L796.1 267.9M796.4 267.9L805.1 267.6M805.4 267.6L814 267.3M814.3 267.3L822.9 267.2M823.2 267.2L831.9 267.1M832.2 267.1L840.8 267M841.1 267L849.7 267M850 267L858.7 267M859 267L867.6 267.9M867.9 267.9L876.5 268M876.8 268L885.5 268M885.8 268L894.4 268M894.7 268L903.3 268M903.6 268L912.3 268.1M912.6 268.1L921.2 268.4M921.5 268.4L930.1 269M930.4 269L939.1 269.5M939.4 269.6L948 270M948.3 270L956.9 270M957.2 270L965.9 270.9M966.2 270.9L974.8 272.2M975.1 272.2L983.7 273.3M984 273.4L992.6 274.9M992.9 274.9L1001.6 276.6M1001.9 276.6L1010.5 278.2M1010.8 278.3L1019.4 279.9M1019.7 279.9L1028.4 281.5M1028.7 281.5L1037.3 282.5M1037.6 282.5L1046.2 283.8M1046.5 283.9L1055.2 285.5M1055.5 285.5L1064.1 287.6M1064.4 287.6L1073 288.8M1073.3 288.8L1082 289.9M1082.3 290L1090.9 291M1091.2 291L1099.8 291.9M1100.1 291.9L1108.8 292.8M1109.1 292.8L1117.7 293.9M1118 293.9L1126.6 294.4M1126.9 294.5L1135.6 294.8M1135.9 294.8L1144.5 295.3M1144.8 295.3L1153.4 296M1153.7 296L1162.4 296.2M1162.7 296.2L1171.3 296.3M1171.6 296.4L1180.2 297.2M1180.5 297.2L1189.2 297.5M1189.5 297.5L1198.1 297.5M1198.4 297.5L1207 299.1M1207.3 299.2L1216 301M1216.3 301L1224.9 302.7M1225.2 302.8L1233.8 304M1234.1 304.1L1242.8 306.1M1243.1 306.1L1251.7 308.3M1252 308.4L1260.6 310.6M1260.9 310.7L1269.6 312.9M1269.9 312.9L1278.5 314M1278.8 314.1L1287.4 316.3M1287.7 316.4L1296.4 318.5M1296.7 318.6L1305.3 320.4M1305.6 320.5L1314.2 322.3M1314.5 322.4L1323.2 325.4M1323.5 325.5L1332.1 328.2M1332.4 328.3L1341 331M1341.3 331.1L1350 334.2M1350.3 334.3L1358.9 336.7M1359.2 336.8L1367.8 339.9M1368.1 340L1376.8 343.4M1377.1 343.5L1385.7 347M1386 347.1L1394.6 350.8M1394.9 351L1403.6 355.8M1403.9 356L1412.5 361.6" stroke="#844c4c" stroke-width="2" fill="none" style="mix-blend-mode:screen"/><path d="M0.1 370L1.1 370M1.4 370L10 369.7M10.3 369.7L19 369.4M19.3 369.4L27.9 369.2M28.2 369.2L36.8 369M37.1 369L45.8 368.9M46.1 368.9L54.7 368.7M55 368.7L63.6 368.7M63.9 368.7L72.6 368.7M72.9 368.7L81.5 368.7M81.8 368.7L90.4 368.6M90.7 368.6L99.3 367.5M99.7 367.5L108.3 367.5M108.6 367.5L117.2 367.5M117.5 367.5L126.1 367.5M126.4 367.5L135.1 367.8M135.4 367.8L144 367.9M144.3 367.9L152.9 367.3M153.2 367.3L161.9 366.7M162.2 366.7L170.8 366.7M171.1 366.7L179.7 366.7M180 366.7L188.7 366.7M189 366.7L197.6 366.7M197.9 366.7L206.5 366.7M206.8 366.7L215.5 366.7M215.8 366.7L224.4 366.7M224.7 366.7L233.3 366.7M233.6 366.7L242.3 366.7M242.6 366.7L251.2 366.7M251.5 366.7L260.1 366.7M260.4 366.8L269.1 367.1M269.4 367.1L278 368M278.3 368L286.9 368M287.2 368L295.9 368M296.2 368L304.8 368M305.1 368L313.7 368M314 368L322.7 368.1M323 368.1L331.6 369.2M331.9 369.2L340.5 369.1M340.8 369.1L349.5 368M349.8 368L358.4 367.9M358.7 367.9L367.3 366.7M367.6 366.6L376.3 365.8M376.6 365.8L385.2 365M385.5 365L394.1 364.8M394.4 364.8L403.1 364.6M403.4 364.6L412 363.5M412.3 363.5L420.9 362.4M421.2 362.4L429.9 361.6M430.2 361.6L438.8 360.7M439.1 360.7L447.7 359.7M448 359.7L456.7 358.6M457 358.6L465.6 357.6M465.9 357.6L474.5 356.7M474.8 356.6L483.5 355.8M483.8 355.8L492.4 354.9M492.7 354.9L501.3 354.1M501.6 354.1L510.3 353.3M510.6 353.2L519.2 352.5M519.5 352.4L528.1 351.7M528.4 351.6L537.1 350.8M537.4 350.7L546 349.9M546.3 349.9L554.9 348.7M555.2 348.6L563.9 347.3M564.2 347.3L572.8 346M573.1 346L581.7 344.7M582 344.7L590.7 343.4M591 343.3L599.6 342M599.9 342L608.5 340.7M608.8 340.7L617.5 339.4M617.8 339.3L626.4 338M626.7 338L635.3 336.4M635.6 336.4L644.3 334.9M644.6 334.9L653.2 334M653.5 334L662.1 333.1M662.4 333.1L671.1 332.2M671.4 332.2L680 331.4M680.3 331.3L688.9 330.4M689.2 330.4L697.9 329.6M698.2 329.6L706.8 328.9M707.1 328.9L715.7 328.3M716 328.3L724.7 327.6M725 327.6L733.6 327.2M733.9 327.2L742.5 326.7M742.8 326.7L751.5 326.5M751.8 326.5L760.4 326.3M760.7 326.3L769.3 325.9M769.6 325.8L778.3 325.5M778.6 325.4L787.2 325.2M787.5 325.2L796.1 324.9M796.4 324.9L805.1 324.4M805.4 324.4L814 324.1M814.3 324.1L822.9 323.8M823.2 323.8L831.9 323.6M832.2 323.6L840.8 323.4M841.1 323.4L849.7 323.3M850 323.3L858.7 323.3M859 323.3L867.6 323.2M867.9 323.2L876.5 323M876.8 323L885.5 323M885.8 323L894.4 322.1M894.7 322L903.3 321.7M903.6 321.7L912.3 321.7M912.6 321.7L921.2 321.7M921.5 321.7L930.1 320.8M930.4 320.8L939.1 320.8M939.4 320.8L948 320.8M948.3 320.8L956.9 320.8M957.2 320.8L965.9 320.8M966.2 320.8L974.8 320.8M975.1 320.8L983.7 320.8M984 320.8L992.6 320.8M992.9 320.8L1001.6 320.8M1001.9 320.8L1010.5 320.8M1010.8 320.8L1019.4 320.8M1019.7 320.8L1028.4 321.9M1028.7 321.9L1037.3 320.8M1037.6 320.8L1046.2 320.8M1046.5 320.8L1055.2 320.8M1055.5 320.8L1064.1 320.8M1064.4 320.8L1073 320.8M1073.3 320.8L1082 320.8M1082.3 320.8L1090.9 320.8M1091.2 320.8L1099.8 320.8M1100.1 320.8L1108.8 320.8M1109.1 320.8L1117.7 320.1M1118 320L1126.6 319.9M1126.9 319.9L1135.6 319.8M1135.9 319.8L1144.5 319.7M1144.8 319.7L1153.4 319.7M1153.7 319.7L1162.4 318.8M1162.7 318.8L1171.3 318.8M1171.6 318.8L1180.2 318.8M1180.5 318.8L1189.2 318.8M1189.5 318.8L1198.1 318.8M1198.4 318.8L1207 318.8M1207.3 318.8L1216 318.8M1216.3 318.8L1224.9 320M1225.2 320L1233.8 320M1234.1 320L1242.8 320.6M1243.1 320.6L1251.7 322M1252 322L1260.6 322.1M1260.9 322.1L1269.6 323M1269.9 323L1278.5 323.7M1278.8 323.7L1287.4 323.8M1287.7 323.9L1296.4 325.2M1296.7 325.3L1305.3 326.4M1305.6 326.4L1314.2 327.3M1314.5 327.3L1323.2 328M1323.5 328L1332.1 330M1332.4 330.1L1341 331.2M1341.3 331.3L1350 332.7M1350.3 332.8L1358.9 333.9M1359.2 333.9L1367.8 334.8M1368.1 334.8L1376.8 336.5M1377.1 336.6L1385.7 338.5M1386 338.6L1394.6 340.8M1394.9 340.8L1403.6 343M1403.9 343.1L1412.5 345.3" stroke="#008b8f" stroke-width="2" fill="none" style="mix-blend-mode:screen"/><path d="M162.2 332.6L170.8 333.4M171.1 333.4L179.7 334.8M180 334.8L188.7 335.9M189 335.9L197.6 337.6M197.9 337.6L206.5 338.8M206.8 338.8L215.5 339.8M215.8 339.8L224.4 340.9M224.7 340.9L233.3 341.8M233.6 341.8L242.3 343M242.6 343.1L251.2 343.8M251.5 343.8L260.1 344.8M260.4 344.8L269.1 346M269.4 346L278 347.1M278.3 347.1L286.9 348.2M287.2 348.2L295.9 349.2M296.2 349.3L304.8 350M305.1 350.1L313.7 350.8M314 350.9L322.7 351.4M323 351.5L331.6 352M331.9 352.1L340.5 352.7M340.8 352.7L349.5 353.4M349.8 353.4L358.4 354.2M358.7 354.2L367.3 354.2M367.6 354.2L376.3 354.2M376.6 354.2L385.2 354.2M385.5 354.2L394.1 354.2M394.4 354.2L403.1 354.2M403.4 354.2L412 354.2M412.3 354.2L420.9 354.2M421.2 354.2L429.9 354.2M430.2 354.2L438.8 354.1M439.1 354.1L447.7 353.3M448 353.3L456.7 353.3M457 353.3L465.6 353.3M465.9 353.3L474.5 353.3M474.8 353.3L483.5 353.3M483.8 353.3L492.4 353.3M492.7 353.3L501.3 353.3M501.6 353.3L510.3 353.3M510.6 353.3L519.2 353.1M519.5 353.1L528.1 352.9M528.4 352.9L537.1 352M537.4 352L546 352.4M546.3 352.4L554.9 352.2M555.2 352.2L563.9 351.9M564.2 351.9L572.8 351.6M573.1 351.5L581.7 351.2M582 351.2L590.7 350.9M591 350.9L599.6 350.5M599.9 350.5L608.5 350.2M608.8 350.2L617.5 349.8M617.8 349.8L626.4 349.5M626.7 349.5L635.3 349.2M635.6 349.2L644.3 348.8M644.6 348.8L653.2 348.5M653.5 348.5L662.1 348.1M662.4 348.1L671.1 347.8M671.4 347.8L680 347.5M680.3 347.5L688.9 347.1M689.2 347.1L697.9 346.8M698.2 346.8L706.8 346.2M707.1 346.2L715.7 345.6M716 345.5L724.7 344.9M725 344.9L733.6 344.2M733.9 344.2L742.5 343.5M742.8 343.5L751.5 342.8M751.8 342.8L760.4 341.8M760.7 341.8L769.3 341.3M769.6 341.3L778.3 340.8M778.6 340.8L787.2 340.3M787.5 340.3L796.1 340M796.4 340L805.1 340M805.4 340L814 339.6M814.3 339.6L822.9 338.8M823.2 338.8L831.9 338.8M832.2 338.8L840.8 338.7M841.1 338.7L849.7 338.7M850 338.7L858.7 338.7M859 338.7L867.6 338.7M867.9 338.7L876.5 338M876.8 338L885.5 338M885.8 338L894.4 338M894.7 338L903.3 338M903.6 338L912.3 337.1M912.6 337.1L921.2 337M921.5 337L930.1 337M930.4 337L939.1 337M939.4 337L948 336.8M948.3 336.8L956.9 335.8M957.2 335.8L965.9 335.8M966.2 335.8L974.8 335.8M975.1 335.8L983.7 335.8M984 335.8L992.6 335.8M992.9 335.8L1001.6 335.8M1001.9 335.8L1010.5 335.8M1010.8 335.8L1019.4 335.8M1019.7 335.8L1028.4 337M1028.7 337L1037.3 337M1037.6 337L1046.2 337M1046.5 337L1055.2 338M1055.5 338L1064.1 338M1064.4 338L1073 338M1073.3 338L1082 339.2M1082.3 339.2L1090.9 339.3M1091.2 339.3L1099.8 339.4M1100.1 339.5L1108.8 339.6M1109.1 339.6L1117.7 339.7M1118 339.7L1126.6 339.8M1126.9 339.8L1135.6 339.9M1135.9 339.9L1144.5 340M1144.8 340L1153.4 340M1153.7 340L1162.4 340M1162.7 340L1171.3 340M1171.6 340L1180.2 341.2M1180.5 341.2L1189.2 341.2M1189.5 341.2L1198.1 341.2M1198.4 341.2L1207 341.3M1207.3 341.3L1216 342.3M1216.3 342.3L1224.9 343M1225.2 343L1233.8 343M1234.1 343L1242.8 343M1243.1 343L1251.7 344.2M1252 344.2L1260.6 344.2M1260.9 344.2L1269.6 344.2M1269.9 344.2L1278.5 344.2M1278.8 344.3L1287.4 345.3M1287.7 345.3L1296.4 345.3M1296.7 345.3L1305.3 345.3M1305.6 345.3L1314.2 345.3M1314.5 345.3L1323.2 346.3M1323.5 346.3L1332.1 347.8M1332.4 347.9L1341 348.8M1341.3 348.8L1350 349.7M1350.3 349.7L1358.9 350.7M1359.2 350.7L1367.8 352.4M1368.1 352.4L1376.8 353.8M1377.1 353.8L1385.7 355.1M1386 355.2L1394.6 356.6M1394.9 356.7L1403.6 357.8M1403.9 357.9L1412.5 360.3" stroke="#873700" stroke-width="2" fill="none" style="mix-blend-mode:screen"/><path d="M-2.96 979.77H4.04V988.46H-2.96ZM86.37 979.77H93.37V1018.45H86.37ZM95.3 979.77H102.3V1012.52H95.3ZM104.23 979.77H111.23V1006.6H104.23ZM113.17 979.77H120.17V1000.86H113.17ZM122.1 979.77H129.1V998.27H122.1ZM131.03 979.77H138.03V998.64H131.03ZM139.97 979.77H146.97V992.17H139.97ZM157.83 979.77H164.83V991.24H157.83ZM166.76 979.77H173.76V989.39H166.76ZM175.7 979.77H182.7V987.54H175.7ZM184.63 979.77H191.63V985.32H184.63ZM193.56 979.77H200.56V983.47H193.56ZM202.5 979.77H209.5V982.36H202.5ZM211.43 979.77H218.43V982.36H211.43ZM533.02 979.77H540.02V1005.49H533.02ZM541.95 979.77H548.95V1004.2H541.95ZM559.82 979.77H566.82V1002.35H559.82ZM568.75 979.77H575.75V999.57H568.75ZM577.68 979.77H584.68V998.27H577.68ZM586.62 979.77H593.62V998.09H586.62ZM595.55 979.77H602.55V998.27H595.55ZM613.41 979.77H620.41V996.42H613.41ZM622.35 979.77H629.35V995.31H622.35ZM631.28 979.77H638.28V993.46H631.28ZM667.01 979.77H674.01V1014.38H667.01ZM675.94 979.77H682.94V1012.52H675.94ZM684.88 979.77H691.88V1009.38H684.88ZM693.81 979.77H700.81V1008.27H693.81ZM702.74 979.77H709.74V1007.53H702.74ZM756.34 979.77H763.34V1023.26H756.34ZM765.27 979.77H772.27V1019.37H765.27ZM774.21 979.77H781.21V1016.6H774.21ZM783.14 979.77H790.14V1002.35H783.14ZM792.07 979.77H799.07V991.24H792.07ZM801.01 979.77H808.01V988.46H801.01ZM809.94 979.77H816.94V982.36H809.94ZM1024.33 979.77H1031.33V996.42H1024.33ZM1033.27 979.77H1040.27V989.39H1033.27ZM1042.2 979.77H1049.2V984.39H1042.2ZM1051.13 979.77H1058.13V982.36H1051.13ZM1202.99 979.77H1209.99V982.36H1202.99ZM1256.59 979.77H1263.59V1037.51H1256.59ZM1265.52 979.77H1272.52V1032.51H1265.52ZM1274.46 979.77H1281.46V1018.45H1274.46ZM1283.39 979.77H1290.39V1006.6H1283.39ZM1292.32 979.77H1299.32V997.35H1292.32ZM1301.25 979.77H1308.25V993.46H1301.25ZM1310.19 979.77H1317.19V992.54H1310.19ZM1345.92 979.77H1352.92V1027.7H1345.92ZM1354.85 979.77H1361.85V1026.78H1354.85ZM1363.79 979.77H1370.79V1018.45H1363.79ZM1372.72 979.77H1379.72V1017.52H1372.72ZM1381.65 979.77H1388.65V1015.67H1381.65ZM1390.59 979.77H1397.59V1011.6H1390.59ZM1399.52 979.77H1406.52V1010.3H1399.52ZM1408.45 979.77H1415.45V1004.57H1408.45Z" fill="#d03e3e"/><path d="M6.47 980.27H12.47V992.96H6.47ZM15.4 980.27H21.4V995.92H15.4ZM24.34 980.27H30.34V1002.77H24.34ZM33.27 980.27H39.27V1011.1H33.27ZM42.2 980.27H48.2V1016.1H42.2ZM51.13 980.27H57.13V1017.02H51.13ZM60.07 980.27H66.07V1019.98H60.07ZM69 980.27H75V1021.28H69ZM77.93 980.27H83.93V1022.2H77.93ZM149.4 980.27H155.4V992.22H149.4ZM479.92 980.27H485.92V984.82H479.92ZM488.85 980.27H494.85V991.67H488.85ZM497.79 980.27H503.79V995.92H497.79ZM506.72 980.27H512.72V998.7H506.72ZM515.65 980.27H521.65V1006.84H515.65ZM524.58 980.27H530.58V1007.77H524.58ZM551.38 980.27H557.38V1003.7H551.38ZM604.98 980.27H610.98V997.59H604.98ZM640.71 980.27H646.71V1000.92H640.71ZM649.65 980.27H655.65V1011.1H649.65ZM658.58 980.27H664.58V1014.8H658.58ZM712.18 980.27H718.18V1011.47H712.18ZM721.11 980.27H727.11V1012.58H721.11ZM730.04 980.27H736.04V1014.8H730.04ZM738.98 980.27H744.98V1018.87H738.98ZM747.91 980.27H753.91V1026.83H747.91ZM1006.97 980.27H1012.97V991.67H1006.97ZM1015.9 980.27H1021.9V996.85H1015.9ZM1212.42 980.27H1218.42V1002.77H1212.42ZM1221.36 980.27H1227.36V1019.98H1221.36ZM1230.29 980.27H1236.29V1024.98H1230.29ZM1239.22 980.27H1245.22V1037.01H1239.22ZM1248.16 980.27H1254.16V1039.79H1248.16ZM1319.62 980.27H1325.62V999.07H1319.62ZM1328.55 980.27H1334.55V1022.76H1328.55ZM1337.49 980.27H1343.49V1027.76H1337.49Z" fill="none" stroke="#d03e3e" stroke-width="1" opacity="0.8"/><path d="M220.36 978.66H227.36V980.26H220.36ZM229.3 977.91H236.3V979.77H229.3ZM238.23 977.91H245.23V979.77H238.23ZM256.09 975.51H263.09V979.77H256.09ZM291.83 972.73H298.83V979.77H291.83ZM318.62 968.66H325.62V979.77H318.62ZM327.56 970.51H334.56V979.77H327.56ZM390.09 935.72H397.09V979.77H390.09ZM399.02 941.64H406.02V979.77H399.02ZM425.82 936.64H432.82V979.77H425.82ZM434.75 946.45H441.75V979.77H434.75ZM443.69 952.74H450.69V979.77H443.69ZM452.62 958.48H459.62V979.77H452.62ZM461.55 963.48H468.55V979.77H461.55ZM470.49 975.51H477.49V979.77H470.49ZM818.87 976.43H825.87V979.77H818.87ZM836.74 974.95H843.74V979.77H836.74ZM881.4 966.63H888.4V979.77H881.4ZM908.2 962.55H915.2V979.77H908.2ZM926.07 962.55H933.07V979.77H926.07ZM935 963.48H942V979.77H935ZM943.93 966.26H950.93V979.77H943.93ZM952.87 967.55H959.87V979.77H952.87ZM961.8 969.59H968.8V979.77H961.8ZM970.73 971.44H977.73V979.77H970.73ZM979.67 975.51H986.67V979.77H979.67ZM988.6 977.73H995.6V979.77H988.6ZM997.53 978.66H1004.53V980.26H997.53ZM1060.06 977.91H1067.06V979.77H1060.06ZM1095.8 966.63H1102.8V979.77H1095.8ZM1104.73 967.55H1111.73V979.77H1104.73ZM1158.33 953.67H1165.33V979.77H1158.33ZM1167.26 955.15H1174.26V979.77H1167.26ZM1176.19 959.41H1183.19V979.77H1176.19ZM1185.13 969.59H1192.13V979.77H1185.13ZM1194.06 974.58H1201.06V979.77H1194.06Z" fill="#26a680"/><path d="M247.66 976.38H253.66V979.27H247.66ZM265.53 974.16H271.53V979.27H265.53ZM274.46 969.16H280.46V979.27H274.46ZM283.39 968.61H289.39V979.27H283.39ZM301.26 970.09H307.26V979.27H301.26ZM310.19 967.13H316.19V979.27H310.19ZM336.99 969.16H342.99V979.27H336.99ZM345.92 968.05H351.92V979.27H345.92ZM354.86 959.91H360.86V979.27H354.86ZM363.79 951.02H369.79V979.27H363.79ZM372.72 939.92H378.72V979.27H372.72ZM381.66 934H387.66V979.27H381.66ZM408.45 937.14H414.45V979.27H408.45ZM417.39 934H423.39V979.27H417.39ZM828.31 973.23H834.31V979.27H828.31ZM846.17 971.01H852.17V979.27H846.17ZM855.1 970.09H861.1V979.27H855.1ZM864.04 966.2H870.04V979.27H864.04ZM872.97 966.2H878.97V979.27H872.97ZM890.84 964.9H896.84V979.27H890.84ZM899.77 962.13H905.77V979.27H899.77ZM917.64 962.13H923.64V979.27H917.64ZM1069.5 972.31H1075.5V979.27H1069.5ZM1078.43 966.38H1084.43V979.27H1078.43ZM1087.36 965.27H1093.36V979.27H1087.36ZM1114.16 966.2H1120.16V979.27H1114.16ZM1123.1 960.28H1129.1V979.27H1123.1ZM1132.03 958.43H1138.03V979.27H1132.03ZM1140.96 958.43H1146.96V979.27H1140.96ZM1149.89 951.95H1155.89V979.27H1149.89Z" fill="none" stroke="#26a680" stroke-width="1" opacity="0.8"/><path d="M0.1 932.7L1.1 933.2M1.4 933.4L10 938.1M10.3 938.3L19 941.7M19.3 941.9L27.9 949.1M28.2 949.3L36.8 956.3M37.1 956.5L45.8 963.1M46.1 963.3L54.7 968.2M55 968.4L63.6 974.2M63.9 974.4L72.6 980.1M72.9 980.3L81.5 986.1M81.8 986.2L90.4 988M90.7 988.1L99.3 989.8M99.7 989.8L108.3 989.9M108.6 989.9L117.2 989.1M117.5 989.1L126.1 990.4M126.4 990.4L135.1 992.1M135.4 992.1L144 991.6M144.3 991.7L152.9 994M153.2 994L161.9 994M162.2 994L170.8 994M171.1 994L179.7 994M180 993.9L188.7 993.1M189 993.1L197.6 993.1M197.9 993.1L206.5 993.1M206.8 993.1L215.5 993.1M215.8 993.1L224.4 992.5M224.7 992.5L233.3 991.6M233.6 991.5L242.3 990.3M242.6 990.3L251.2 989.8M251.5 989.8L260.1 988.3M260.4 988.3L269.1 986.7M269.4 986.6L278 983.4M278.3 983.3L286.9 981.2M287.2 981.1L295.9 982M296.2 981.9L304.8 978.7M305.1 978.6L313.7 975.6M314 975.6L322.7 976.1M323 976.1L331.6 976M331.9 976L340.5 973.6M340.8 973.5L349.5 971.3M349.8 971.1L358.4 964.5M358.7 964.3L367.3 956.3M367.6 956L376.3 945.3M376.6 945L385.2 936.5M385.5 936.3L394.1 932.8M394.4 932.7L403.1 929.9M403.4 929.7L412 922.4M412.3 922.1L420.9 915.7M421.2 915.6L429.9 911.9M430.2 911.8L438.8 913M439.1 913L447.7 913M448 913L456.7 913M457 913L465.6 913.4M465.9 913.5L474.5 919M474.8 919.2L483.5 924M483.8 924.2L492.4 929.1M492.7 929.3L501.3 933.2M501.6 933.3L510.3 937.6M510.6 937.8L519.2 943.7M519.5 943.9L528.1 948.7M528.4 948.8L537.1 950.2M537.4 950.3L546 952.9M546.3 953L554.9 955.8M555.2 955.9L563.9 957.9M564.2 957.9L572.8 958.1M573.1 958.1L581.7 960.3M582 960.4L590.7 963.1M591 963.2L599.6 963.7M599.9 963.8L608.5 966.8M608.8 966.9L617.5 968.2M617.8 968.2L626.4 969.1M626.7 969.1L635.3 970.4M635.6 970.5L644.3 976.1M644.6 976.4L653.2 985.2M653.5 985.4L662.1 991.9M662.4 992.1L671.1 995.1M671.4 995.2L680 997.9M680.3 998L688.9 1000.6M689.2 1000.7L697.9 1003.4M698.2 1003.5L706.8 1006.5M707.1 1006.7L715.7 1012.8M716 1013L724.7 1018M725 1018.1L733.6 1023.1M733.9 1023.4L742.5 1030.7M742.8 1031L751.5 1039.5M751.8 1039.7L760.4 1042.7M760.7 1042.8L769.3 1046M769.6 1046.1L778.3 1049.1M778.6 1049.1L787.2 1044.6M787.5 1044.5L796.1 1040.4M796.4 1040.3L805.1 1040.1M805.4 1040L814 1037M814.3 1036.9L822.9 1034.5M823.2 1034.4L831.9 1030.9M832.2 1030.8L840.8 1031.7M841.1 1031.7L849.7 1028.7M850 1028.6L858.7 1026.6M859 1026.5L867.6 1023M867.9 1022.9L876.5 1021M876.8 1020.9L885.5 1021.1M885.8 1021.1L894.4 1017.4M894.7 1017.3L903.3 1014.6M903.6 1014.5L912.3 1011.7M912.6 1011.7L921.2 1009.6M921.5 1009.5L930.1 1007.8M930.4 1007.7L939.1 1005.8M939.4 1005.7L948 1005.9M948.3 1005.9L956.9 1004.9M957.2 1004.9L965.9 1004.9M966.2 1004.9L974.8 1005M975.1 1005L983.7 1006M984 1006.1L992.6 1007M992.9 1007.1L1001.6 1008.3M1001.9 1008.5L1010.5 1014.8M1010.8 1014.9L1019.4 1019.9M1019.7 1020L1028.4 1021.2M1028.7 1021.2L1037.3 1018.9M1037.6 1018.8L1046.2 1016.8M1046.5 1016.7L1055.2 1015.7M1055.5 1015.7L1064.1 1013.2M1064.4 1013.1L1073 1009.4M1073.3 1009.3L1082 1005.5M1082.3 1005.4L1090.9 1002.3M1091.2 1002.2L1099.8 1001.3M1100.1 1001.3L1108.8 1000.4M1109.1 1000.3L1117.7 998.5M1118 998.4L1126.6 993M1126.9 992.8L1135.6 989.5M1135.9 989.4L1144.5 985.3M1144.8 985.1L1153.4 979.7M1153.7 979.6L1162.4 977.8M1162.7 977.7L1171.3 975.8M1171.6 975.8L1180.2 974.8M1180.5 974.9L1189.2 978.8M1189.5 978.9L1198.1 980.7M1198.4 980.8L1207 984.9M1207.3 985.2L1216 999.5M1216.3 1000L1224.9 1011.9M1225.2 1012.3L1233.8 1019.9M1234.1 1020.2L1242.8 1032.5M1243.1 1032.9L1251.7 1041.5M1252 1041.7L1260.6 1047.9M1260.9 1048.1L1269.6 1052M1269.9 1052L1278.5 1048.9M1278.8 1048.8L1287.4 1047M1287.7 1046.9L1296.4 1044.8M1296.7 1044.8L1305.3 1043.7M1305.6 1043.7L1314.2 1045.4M1314.5 1045.6L1323.2 1052.7M1323.5 1053.1L1332.1 1067.9M1332.4 1068.3L1341 1077M1341.3 1077.2L1350 1082.3M1350.3 1082.4L1358.9 1086.9M1359.2 1087L1367.8 1088.2M1368.1 1088.2L1376.8 1091.9M1377.1 1092L1385.7 1095.9M1386 1096L1394.6 1098.2M1394.9 1098.3L1403.6 1100.8M1403.9 1100.8L1412.5 1100.8" stroke="#6c6c71" stroke-width="2" fill="none" style="mix-blend-mode:screen"/><path d="M0.1 929.8L1.1 929.9M1.4 929.9L10 930.7M10.3 930.8L19 933.1M19.3 933.2L27.9 936.2M28.2 936.3L36.8 940.2M37.1 940.4L45.8 945M46.1 945.2L54.7 949.2M55 949.4L63.6 954M63.9 954.1L72.6 959M72.9 959.2L81.5 964.5M81.8 964.7L90.4 968.7M90.7 968.8L99.3 972.5M99.7 972.6L108.3 976.4M108.6 976.5L117.2 978.9M117.5 979L126.1 981.7M126.4 981.8L135.1 984.2M135.4 984.2L144 985.3M144.3 985.3L152.9 986.9M153.2 986.9L161.9 988.3M162.2 988.4L170.8 989.8M171.1 989.8L179.7 990.3M180 990.4L188.7 991.2M189 991.2L197.6 991.2M197.9 991.2L206.5 992.2M206.8 992.2L215.5 992.1M215.8 992.1L224.4 991.6M224.7 991.6L233.3 991.2M233.6 991.2L242.3 990.9M242.6 990.9L251.2 990.9M251.5 990.9L260.1 989.9M260.4 989.9L269.1 989.7M269.4 989.7L278 988.1M278.3 988L286.9 987M287.2 987L295.9 986.1M296.2 986.1L304.8 984.9M305.1 984.8L313.7 982.8M314 982.8L322.7 981.5M323 981.5L331.6 979.8M331.9 979.8L340.5 978.8M340.8 978.8L349.5 978.1M349.8 978.1L358.4 975.6M358.7 975.5L367.3 971.4M367.6 971.3L376.3 965.9M376.6 965.8L385.2 960.4M385.5 960.2L394.1 953.9M394.4 953.7L403.1 948.3M403.4 948.1L412 942.4M412.3 942.2L420.9 937M421.2 936.8L429.9 932.7M430.2 932.6L438.8 929M439.1 928.9L447.7 925.8M448 925.7L456.7 923.6M457 923.6L465.6 922.1M465.9 922.1L474.5 921M474.8 921L483.5 921.9M483.8 921.9L492.4 922.9M492.7 923L501.3 925.2M501.6 925.3L510.3 928.1M510.6 928.2L519.2 931.2M519.5 931.3L528.1 934.1M528.4 934.2L537.1 937.8M537.4 937.9L546 940.5M546.3 940.6L554.9 943.6M555.2 943.6L563.9 945.5M564.2 945.6L572.8 948.4M573.1 948.5L581.7 950.7M582 950.7L590.7 952.9M591 953L599.6 955.5M599.9 955.6L608.5 957.6M608.8 957.6L617.5 959.9M617.8 960L626.4 961.7M626.7 961.7L635.3 963.3M635.6 963.4L644.3 966.6M644.6 966.7L653.2 971.2M653.5 971.3L662.1 975.7M662.4 975.8L671.1 979.4M671.4 979.6L680 983.1M680.3 983.3L688.9 986.8M689.2 986.9L697.9 990.9M698.2 991.1L706.8 995.2M707.1 995.3L715.7 999.3M716 999.4L724.7 1003.5M725 1003.6L733.6 1007.6M733.9 1007.8L742.5 1012.8M742.8 1013L751.5 1018.5M751.8 1018.6L760.4 1023.3M760.7 1023.5L769.3 1027.5M769.6 1027.6L778.3 1031.2M778.6 1031.3L787.2 1033.8M787.5 1033.9L796.1 1035.1M796.4 1035.2L805.1 1036M805.4 1036L814 1036.2M814.3 1036.2L822.9 1035.9M823.2 1035.9L831.9 1034.7M832.2 1034.6L840.8 1033.7M841.1 1033.7L849.7 1032.9M850 1032.8L858.7 1031.9M859 1031.8L867.6 1029.6M867.9 1029.5L876.5 1027.7M876.8 1027.6L885.5 1026.7M885.8 1026.6L894.4 1024.6M894.7 1024.5L903.3 1023.1M903.6 1023L912.3 1020.7M912.6 1020.6L921.2 1018M921.5 1017.9L930.1 1015.8M930.4 1015.7L939.1 1013.8M939.4 1013.7L948 1012.8M948.3 1012.7L956.9 1011.1M957.2 1011.1L965.9 1010M966.2 1010L974.8 1008.7M975.1 1008.7L983.7 1007.9M984 1007.9L992.6 1007.9M992.9 1007.9L1001.6 1008M1001.9 1008.1L1010.5 1009.8M1010.8 1009.9L1019.4 1011.7M1019.7 1011.8L1028.4 1013.5M1028.7 1013.5L1037.3 1014.9M1037.6 1014.9L1046.2 1015.3M1046.5 1015.4L1055.2 1015.8M1055.5 1015.8L1064.1 1015.2M1064.4 1015.2L1073 1014.3M1073.3 1014.2L1082 1012.4M1082.3 1012.4L1090.9 1011.1M1091.2 1011L1099.8 1009.1M1100.1 1009L1108.8 1006.9M1109.1 1006.9L1117.7 1005.5M1118 1005.4L1126.6 1002.6M1126.9 1002.5L1135.6 1000.3M1135.9 1000.2L1144.5 997M1144.8 996.9L1153.4 993.4M1153.7 993.3L1162.4 990.7M1162.7 990.7L1171.3 988M1171.6 987.9L1180.2 986.5M1180.5 986.5L1189.2 984.2M1189.5 984.2L1198.1 984.2M1198.4 984.2L1207 984.4M1207.3 984.4L1216 987M1216.3 987.1L1224.9 991.5M1225.2 991.7L1233.8 996.9M1234.1 997.1L1242.8 1004.7M1243.1 1004.9L1251.7 1011.9M1252 1012.2L1260.6 1019.4M1260.9 1019.6L1269.6 1025.8M1269.9 1026L1278.5 1030.6M1278.8 1030.7L1287.4 1033.5M1287.7 1033.6L1296.4 1035.8M1296.7 1035.9L1305.3 1037.5M1305.6 1037.6L1314.2 1038.6M1314.5 1038.7L1323.2 1041.7M1323.5 1041.8L1332.1 1047.5M1332.4 1047.7L1341 1053.5M1341.3 1053.7L1350 1059.1M1350.3 1059.3L1358.9 1063.7M1359.2 1063.9L1367.8 1068.7M1368.1 1068.9L1376.8 1073.9M1377.1 1074L1385.7 1078.1M1386 1078.2L1394.6 1082.1M1394.9 1082.3L1403.6 1086.2M1403.9 1086.3L1412.5 1089" stroke="#8c8c0e" stroke-width="2" fill="none" style="mix-blend-mode:screen"/><text x="444.6" y="88.4" font-size="12.5" fill="#f4f4f4" stroke="#f4f4f4" stroke-width="0.25" textLength="42">97932.1</text><path d="M433.6 85.9H440.4M433.6 85.9l2.8 -2.6M433.6 85.9l2.8 2.6" stroke="#e0e0e0" stroke-width="1.2" fill="none"/><text x="1345.2" y="850.8" font-size="12.5" fill="#f4f4f4" stroke="#f4f4f4" stroke-width="0.25" textLength="42.6">74555.0</text><path d="M1392.8 847.6H1399.6M1399.6 847.6l-2.6 -2.4M1399.6 847.6l-2.6 2.4" stroke="#e0e0e0" stroke-width="1.2" fill="none"/><rect x="0" y="0" width="1729" height="36" fill="#111111"/><rect x="0" y="2" width="1729" height="2" fill="#1c1c1c"/><rect x="0" y="35" width="1729" height="1.6" fill="#232323"/><g fill="none" stroke="#c4c4c4" stroke-width="1.3" stroke-linecap="round" stroke-linejoin="round"><path d="M1.4 17.5V22L4.4 25.7M1.4 22L-1 24"/><circle cx="4.1" cy="13.5" r="3.5" fill="#e83030" stroke="#f0f0f0" stroke-width="1.1"/><g transform="translate(28.9 19.7) rotate(-45)"><rect x="-6.6" y="-2.3" width="13.2" height="4.6" rx="2.1"/><path d="M2.9 -2.3V2.3"/></g><path d="M31.9 21.7l1.3 2.5 1.1-1.9 1.1 1.5" stroke-width="1.1"/><path d="M57.4 14.4V15.8M57.4 23.2V24.6M62.1 14.4V15.8M62.1 23.2V24.6M66.8 14.4V15.8M66.8 23.2V24.6" /><rect x="55.9" y="15.8" width="3" height="7.4" rx="1"/><rect x="60.6" y="15.8" width="3" height="7.4" rx="1"/><rect x="65.3" y="15.8" width="3" height="7.4" rx="1"/><rect x="88.6" y="16.8" width="11" height="8.6" rx="0.8" stroke="#e0e0e0"/><path d="M91.6 16.6V15.2A2.7 2.7 0 0 1 96.8 14.4" stroke="#e0e0e0"/><path d="M93.1 20L95.1 21.1L93.1 22.2Z" fill="#8a8a8a" stroke="none"/><path d="M125 25H121.9A2 2 0 0 1 119.9 23V16.2A2 2 0 0 1 121.9 14.2H128.6A2 2 0 0 1 130.6 16.2V18.6" stroke="#b8b8b8"/><path d="M122.6 17.4H127.6M122.6 19.9H125.4" stroke="#b8b8b8"/><g transform="translate(128.8 21.8) rotate(-40)"><rect x="-3.4" y="-1.2" width="6.8" height="2.4" rx="1.2" stroke="#c8c8c8" stroke-width="1.1"/></g><path d="M129.6 25H131.4" stroke="#b8b8b8"/><g transform="translate(158.8 19.9) rotate(45)"><path d="M-6.2 4.2V-1.2A5.3 5.3 0 0 1 4.4 -1.2V4.2H1.1V-1.2A2 2 0 0 0 -2.9 -1.2V4.2Z"/><path d="M-6.2 1.6H-2.9M1.1 1.6H4.4"/></g><path d="M190.7 26V20.6L184.8 14.4H199.4L193.7 20.6V28.6"/><path d="M216.6 15H227.4M217.5 15V25.5H226.7V15M220.5 17.6V22.6M223.5 17.6V22.6" stroke="#ececec" stroke-width="1.3"/><rect x="219.6" y="12.3" width="5.2" height="2.6" rx="1" fill="#9a9a9a" stroke="none"/><path d="M251.6 14.7L248.5 18.1L251.6 21.5M248.8 18.1H254.5Q260.5 18.6 260.8 24.4" stroke="#464646" stroke-width="1.45"/><path d="M289.8 14.7L292.9 18.1L289.8 21.5M292.6 18.1H286.9Q280.9 18.6 280.6 24.4" stroke="#464646" stroke-width="1.45"/></g><text x="-8.4" y="50.6" font-size="12" fill="#747884">涨幅</text><text x="19.6" y="50.7" font-size="12" fill="#2b9877" textLength="69.6" stroke="#2b9877" stroke-width="0.3">0.55%(529.9)</text><text x="95.4" y="50.6" font-size="12" fill="#747884">振幅</text><text x="123.2" y="50.7" font-size="12" fill="#2b9877" textLength="31" stroke="#2b9877" stroke-width="0.3">1.61%</text><text x="-3.6" y="68.8" font-size="12" fill="#a4cf78" textLength="43" stroke="#a4cf78" stroke-width="0.3">91166.7</text><text x="46" y="68.8" font-size="12" fill="#ee8888" textLength="92.6" stroke="#ee8888" stroke-width="0.3">MA(120):90339.2</text><text x="145.6" y="68.8" font-size="12" fill="#00d0d0" textLength="92.6" stroke="#00d0d0" stroke-width="0.3">MA(200):89433.4</text><text x="245.2" y="68.8" font-size="12" fill="#d86a10" textLength="92.6" stroke="#d86a10" stroke-width="0.3">MA(360):89723.8</text><rect x="0" y="1106" width="1729" height="46" fill="#111111"/><rect x="0" y="1105" width="1729" height="1.3" fill="#1f2023"/><text x="84.8" y="1120.1" font-size="12" fill="#868a96" stroke="none" xml:space="preserve">1月 9</text><text x="188.66" y="1120.1" font-size="12" fill="#868a96" stroke="none" xml:space="preserve">1月 11</text><text x="295.85" y="1120.1" font-size="12" fill="#868a96" stroke="none" xml:space="preserve">1月 13</text><text x="510.22" y="1120.1" font-size="12" fill="#868a96" stroke="none" xml:space="preserve">1月 17</text><text x="617.41" y="1120.1" font-size="12" fill="#868a96" stroke="none" xml:space="preserve">1月 19</text><text x="724.6" y="1120.1" font-size="12" fill="#868a96" stroke="none" xml:space="preserve">1月 21</text><text x="831.79" y="1120.1" font-size="12" fill="#868a96" stroke="none" xml:space="preserve">1月 23</text><text x="938.98" y="1120.1" font-size="12" fill="#868a96" stroke="none" xml:space="preserve">1月 25</text><text x="1046.17" y="1120.1" font-size="12" fill="#868a96" stroke="none" xml:space="preserve">1月 27</text><text x="1153.37" y="1120.1" font-size="12" fill="#868a96" stroke="none" xml:space="preserve">1月 29</text><text x="1260.55" y="1120.1" font-size="12" fill="#868a96" stroke="none" xml:space="preserve">1月 31</text><text x="1371.08" y="1120.1" font-size="12" fill="#868a96" stroke="none" xml:space="preserve">2月 2</text><text x="1478.27" y="1120.1" font-size="12" fill="#868a96" stroke="none" xml:space="preserve">2月 4</text><text x="1585.46" y="1120.1" font-size="12" fill="#868a96" stroke="none" xml:space="preserve">2月 6</text><text x="1692.65" y="1120.1" font-size="12" fill="#868a96" stroke="none" xml:space="preserve">2月 8</text><text x="-1.5" y="1120.1" font-size="12" fill="#868a96" stroke="#868a96" stroke-width="0.3">7</text><rect x="368.2" y="1107.4" width="105" height="18.2" fill="#55637a"/><text x="374.5" y="1120.2" font-size="12" fill="#dcdfe4" textLength="92.8" stroke="#dcdfe4" stroke-width="0.3">2026-01-15 00:00</text><rect x="0" y="1130" width="1729" height="1.3" fill="#222326"/><rect x="348" y="1131" width="1.3" height="21" fill="#3a3a3a"/><rect x="533.4" y="1136" width="55.6" height="22" rx="4" fill="#1f1f1f"/><text x="6" y="1150.6" font-size="13.9" fill="#c2c2c2">主力大单跟踪</text><text x="118" y="1150.6" font-size="13.9" fill="#c2c2c2">筹码分布</text><text x="202.2" y="1150.6" font-size="14" fill="#c2c2c2" textLength="57" lengthAdjust="spacingAndGlyphs" stroke="#c2c2c2" stroke-width="0.3">Ichimoku</text><text x="287.6" y="1150.6" font-size="14" fill="#c2c2c2" textLength="26" lengthAdjust="spacingAndGlyphs" stroke="#c2c2c2" stroke-width="0.3">SAR</text><text x="368.2" y="1150.6" font-size="14" fill="#c2c2c2" textLength="47.2" lengthAdjust="spacingAndGlyphs" stroke="#c2c2c2" stroke-width="0.3">Volume</text><text x="443.6" y="1150.6" font-size="13.9" fill="#c2c2c2">持仓量</text><text x="488.9" y="1150.6" font-size="14" fill="#c2c2c2" textLength="24.2" lengthAdjust="spacingAndGlyphs" stroke="#c2c2c2" stroke-width="0.3">(OI)</text><text x="609.8" y="1150.6" font-size="14" fill="#c2c2c2" textLength="20.4" lengthAdjust="spacingAndGlyphs" stroke="#c2c2c2" stroke-width="0.3">RSI</text><text x="658.8" y="1150.6" font-size="14" fill="#c2c2c2" textLength="24.2" lengthAdjust="spacingAndGlyphs" stroke="#c2c2c2" stroke-width="0.3">KDJ</text><text x="711.6" y="1150.6" font-size="13.9" fill="#c2c2c2">爆仓统计</text><text x="795.8" y="1150.6" font-size="14" fill="#c2c2c2" textLength="34.2" lengthAdjust="spacingAndGlyphs" stroke="#c2c2c2" stroke-width="0.3">LSUR</text><text x="858.9" y="1150.6" font-size="14" fill="#c2c2c2" textLength="16.2" lengthAdjust="spacingAndGlyphs" stroke="#c2c2c2" stroke-width="0.3">FR</text><text x="903.9" y="1150.6" font-size="14" fill="#c2c2c2" textLength="59.2" lengthAdjust="spacingAndGlyphs" stroke="#c2c2c2" stroke-width="0.3">Fundflow</text><text x="991.2" y="1150.6" font-size="14" fill="#c2c2c2" textLength="37.6" lengthAdjust="spacingAndGlyphs" stroke="#c2c2c2" stroke-width="0.3">TTMU</text><text x="1057.4" y="1150.6" font-size="14" fill="#c2c2c2" textLength="27.6" lengthAdjust="spacingAndGlyphs" stroke="#c2c2c2" stroke-width="0.3">TTSI</text><text x="1113.9" y="1150.6" font-size="14" fill="#c2c2c2" textLength="28.2" lengthAdjust="spacingAndGlyphs" stroke="#c2c2c2" stroke-width="0.3">MLR</text><text x="1170.6" y="1150.6" font-size="14" fill="#c2c2c2" textLength="25.8" lengthAdjust="spacingAndGlyphs" stroke="#c2c2c2" stroke-width="0.3">BSV</text><text x="1224.4" y="1150.6" font-size="14" fill="#c2c2c2" textLength="55.6" lengthAdjust="spacingAndGlyphs" stroke="#c2c2c2" stroke-width="0.3">TVolume</text><text x="1435.6" y="1150.6" font-size="13.9" fill="#c2c2c2">资金流向</text><text x="1519.3" y="1150.6" font-size="13.9" fill="#c2c2c2">资金背离</text><text x="1603.6" y="1150.6" font-size="13.9" fill="#c2c2c2">持仓差值</text><text x="1687.6" y="1150.6" font-size="13.9" fill="#c2c2c2">买卖热</text><text x="541.8" y="1150.6" font-size="14" fill="#ffffff" textLength="39.6" lengthAdjust="spacingAndGlyphs" stroke="#fff" stroke-width="0.3">MACD</text><text x="1308.6" y="1150.6" font-size="14" fill="#c2c2c2" textLength="38.6" lengthAdjust="spacingAndGlyphs" stroke="#c2c2c2" stroke-width="0.3">FTBS(</text><text x="1347.4" y="1150.6" font-size="13.9" fill="#c2c2c2">币种维度</text><text x="1403.2" y="1150.6" font-size="14" fill="#c2c2c2" stroke="#c2c2c2" stroke-width="0.3">)</text><path d="M335.6 1144.6l2 2.2l-2 2.2" stroke="#666" stroke-width="1.1" fill="none"/></svg>
</body></html>
